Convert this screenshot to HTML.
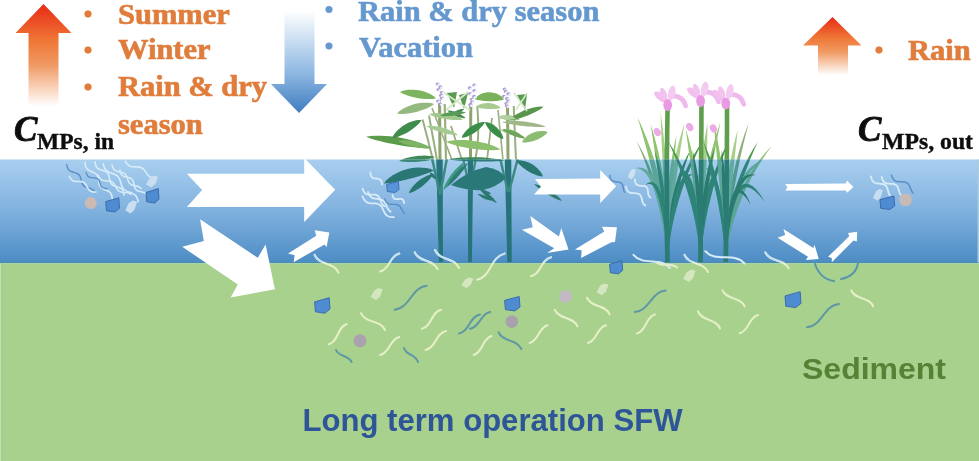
<!DOCTYPE html>
<html><head><meta charset="utf-8">
<style>
html,body{margin:0;padding:0;background:#fff;width:979px;height:461px;overflow:hidden}
svg{display:block}
.serif{font-family:"Liberation Serif",serif;font-weight:bold}
.sans{font-family:"Liberation Sans",sans-serif;font-weight:bold}
</style></head><body>
<svg width="979" height="461" viewBox="0 0 979 461">
<defs>
<linearGradient id="water" x1="0" y1="0" x2="0" y2="1">
<stop offset="0" stop-color="#a9cfef"/>
<stop offset="0.5" stop-color="#80b1de"/>
<stop offset="0.93" stop-color="#5391c8"/>
<stop offset="1" stop-color="#4e8bc4"/>
</linearGradient>
<linearGradient id="orgL" x1="0" y1="0" x2="0" y2="1">
<stop offset="0" stop-color="#e82a17"/>
<stop offset="0.35" stop-color="#ef7535"/>
<stop offset="0.6" stop-color="#f09a63"/>
<stop offset="1" stop-color="#ffffff"/>
</linearGradient>
<linearGradient id="bluA" x1="0" y1="0" x2="0" y2="1">
<stop offset="0" stop-color="#ffffff"/>
<stop offset="0.6" stop-color="#8fb9e2"/>
<stop offset="1" stop-color="#3f7cc0"/>
</linearGradient>
<filter id="soft" x="-2%" y="-2%" width="104%" height="104%" filterUnits="objectBoundingBox"><feGaussianBlur stdDeviation="0.5"/></filter>
</defs>
<g filter="url(#soft)">
<rect x="-10" y="-10" width="999" height="481" fill="#ffffff"/>
<rect x="-10" y="159.5" width="999" height="103.5" fill="url(#water)"/>
<rect x="-10" y="263" width="999" height="208" fill="#a9d18e"/>
<rect x="-10" y="262" width="999" height="1" fill="#4e8ca6"/>
<rect x="-10" y="263" width="999" height="1" fill="#a6d4ae"/>
<rect id="ledge" x="-10" y="263" width="11.2" height="200" fill="#bfe0a8"/>
<rect x="1.5" y="263" width="1.5" height="200" fill="#a6ca8c"/>
<rect x="977.5" y="159.5" width="2" height="103" fill="#a8cce0"/>

<!-- top arrows -->
<path d="M43.5,4 L71.5,33 L58.5,33 L58.5,106 L28.5,106 L28.5,33 L15.5,33 Z" fill="url(#orgL)"/>
<path d="M832.5,17 L861.5,45.5 L848,45.5 L848,75 L818,75 L818,45.5 L803,45.5 Z" fill="url(#orgL)"/>
<path d="M284.5,11 L314.5,11 L314.5,84 L327,84 L299,113 L271,84 L284.5,84 Z" fill="url(#bluA)"/>

<!-- PLANTS -->
<defs><filter id="fb" x="-20%" y="-20%" width="140%" height="140%"><feGaussianBlur stdDeviation="0.7"/></filter><clipPath id="cA"><rect x="0" y="0" width="979" height="159.5"/></clipPath><clipPath id="cW"><rect x="0" y="150" width="979" height="112.5"/></clipPath><clipPath id="cB"><rect x="0" y="159.5" width="979" height="103.0"/></clipPath></defs>
<g clip-path="url(#cA)"><path d="M421.6,119.8 L422.4,122.7 L423.2,125.6 L423.9,128.5 L424.7,131.4 L425.4,134.3 L426.2,137.2 L426.9,140.1 L427.7,143.0 L428.4,145.9 L429.1,148.8 L429.9,151.7 L430.6,154.5 L431.3,157.4 L432.0,160.2 L434.0,159.8 L433.3,156.9 L432.5,154.0 L431.8,151.2 L431.1,148.3 L430.3,145.4 L429.6,142.5 L428.9,139.6 L428.1,136.7 L427.4,133.8 L426.6,130.9 L425.9,128.0 L425.1,125.1 L424.3,122.2 L423.6,119.2Z" fill="#9aae80"/><path d="M428.0,115.8 L428.6,118.9 L429.2,122.1 L429.7,125.3 L430.3,128.5 L430.9,131.6 L431.4,134.8 L432.0,138.0 L432.6,141.1 L433.2,144.3 L433.7,147.5 L434.3,150.7 L434.9,153.8 L435.4,157.0 L436.0,160.2 L438.0,159.8 L437.4,156.7 L436.8,153.5 L436.3,150.3 L435.7,147.1 L435.1,144.0 L434.6,140.8 L434.0,137.6 L433.4,134.5 L432.8,131.3 L432.3,128.1 L431.7,124.9 L431.1,121.8 L430.6,118.6 L430.0,115.4Z" fill="#9aae80"/><path d="M438.0,100.0 L438.0,104.3 L438.1,108.6 L438.1,112.9 L438.1,117.2 L438.2,121.4 L438.2,125.7 L438.3,130.0 L438.3,134.3 L438.3,138.6 L438.4,142.9 L438.4,147.2 L438.4,151.4 L438.5,155.7 L438.5,160.0 L441.5,160.0 L441.5,155.7 L441.4,151.4 L441.4,147.1 L441.4,142.8 L441.3,138.6 L441.3,134.3 L441.2,130.0 L441.2,125.7 L441.2,121.4 L441.1,117.1 L441.1,112.8 L441.1,108.6 L441.0,104.3 L441.0,100.0Z" fill="#8ea46e"/><path d="M443.6,104.0 L443.7,108.0 L443.8,112.0 L443.9,116.0 L444.0,120.0 L444.1,124.0 L444.2,128.0 L444.3,132.0 L444.3,136.0 L444.4,140.0 L444.5,144.0 L444.6,148.0 L444.7,152.0 L444.8,156.0 L444.9,160.0 L447.1,160.0 L447.0,156.0 L446.9,152.0 L446.8,148.0 L446.7,144.0 L446.6,140.0 L446.5,136.0 L446.4,132.0 L446.4,128.0 L446.3,124.0 L446.2,120.0 L446.1,116.0 L446.0,112.0 L445.9,108.0 L445.8,104.0Z" fill="#9aae80"/><path d="M469.3,103.0 L469.3,107.1 L469.3,111.1 L469.2,115.2 L469.2,119.3 L469.2,123.3 L469.2,127.4 L469.2,131.5 L469.1,135.6 L469.1,139.6 L469.1,143.7 L469.1,147.8 L469.0,151.8 L469.0,155.9 L469.0,160.0 L472.0,160.0 L472.0,155.9 L472.0,151.9 L472.1,147.8 L472.1,143.7 L472.1,139.7 L472.1,135.6 L472.1,131.5 L472.2,127.4 L472.2,123.4 L472.2,119.3 L472.2,115.2 L472.3,111.2 L472.3,107.1 L472.3,103.0Z" fill="#8ea46e"/><path d="M476.3,106.6 L476.6,111.2 L476.9,115.6 L477.1,119.9 L477.2,124.1 L477.2,128.2 L477.2,132.2 L477.1,136.1 L476.9,139.8 L476.6,143.4 L476.2,146.9 L475.8,150.3 L475.3,153.6 L474.7,156.7 L474.0,159.8 L476.0,160.2 L476.7,157.1 L477.3,153.9 L477.8,150.6 L478.2,147.2 L478.6,143.6 L478.9,140.0 L479.1,136.2 L479.2,132.3 L479.2,128.2 L479.2,124.1 L479.1,119.9 L478.9,115.5 L478.6,111.0 L478.3,106.4Z" fill="#9aae80"/><path d="M506.0,104.0 L506.0,108.0 L506.1,112.0 L506.1,116.0 L506.1,120.0 L506.2,124.0 L506.2,128.0 L506.3,132.0 L506.3,136.0 L506.3,140.0 L506.4,144.0 L506.4,148.0 L506.4,152.0 L506.5,156.0 L506.5,160.0 L509.5,160.0 L509.5,156.0 L509.4,152.0 L509.4,148.0 L509.4,144.0 L509.3,140.0 L509.3,136.0 L509.2,132.0 L509.2,128.0 L509.2,124.0 L509.1,120.0 L509.1,116.0 L509.1,112.0 L509.0,108.0 L509.0,104.0Z" fill="#8ea46e"/><path d="M512.7,106.0 L512.9,109.9 L513.0,113.8 L513.2,117.6 L513.4,121.5 L513.5,125.3 L513.7,129.2 L513.9,133.0 L514.0,136.9 L514.2,140.8 L514.3,144.6 L514.5,148.5 L514.7,152.3 L514.8,156.2 L515.0,160.0 L517.0,160.0 L516.8,156.1 L516.7,152.2 L516.5,148.4 L516.3,144.5 L516.2,140.7 L516.0,136.8 L515.8,133.0 L515.7,129.1 L515.5,125.2 L515.4,121.4 L515.2,117.5 L515.0,113.7 L514.9,109.8 L514.7,106.0Z" fill="#9aae80"/><path d="M450.1,126.3 L450.9,128.7 L451.7,131.1 L452.5,133.6 L453.3,136.0 L454.1,138.4 L454.9,140.8 L455.6,143.3 L456.4,145.7 L457.2,148.1 L458.0,150.6 L458.8,153.0 L459.6,155.4 L460.4,157.8 L461.1,160.3 L462.9,159.7 L462.1,157.3 L461.3,154.9 L460.5,152.4 L459.7,150.0 L458.9,147.6 L458.1,145.2 L457.4,142.7 L456.6,140.3 L455.8,137.9 L455.0,135.4 L454.2,133.0 L453.4,130.6 L452.6,128.2 L451.9,125.7Z" fill="#9aae80"/><path d="M491.1,117.9 L490.7,120.9 L490.4,123.9 L490.0,126.9 L489.7,129.9 L489.3,132.9 L489.0,135.9 L488.6,138.9 L488.2,141.9 L487.9,144.9 L487.5,147.9 L487.2,150.9 L486.8,153.9 L486.5,156.9 L486.1,159.9 L487.9,160.1 L488.3,157.1 L488.6,154.1 L489.0,151.1 L489.3,148.1 L489.7,145.1 L490.0,142.1 L490.4,139.1 L490.8,136.1 L491.1,133.1 L491.5,130.1 L491.8,127.1 L492.2,124.1 L492.5,121.1 L492.9,118.1Z" fill="#9aae80"/><path d="M431.3,108.3 L432.7,112.0 L434.1,115.7 L435.5,119.4 L437.0,123.1 L438.4,126.9 L439.8,130.6 L441.3,134.3 L442.7,138.0 L444.1,141.7 L445.5,145.4 L447.0,149.1 L448.4,152.9 L449.8,156.6 L451.3,160.3 L452.7,159.7 L451.3,156.0 L449.9,152.3 L448.5,148.6 L447.0,144.9 L445.6,141.1 L444.2,137.4 L442.7,133.7 L441.3,130.0 L439.9,126.3 L438.5,122.6 L437.0,118.9 L435.6,115.1 L434.2,111.4 L432.7,107.7Z" fill="#9aae80"/><path d="M497.2,110.1 L497.6,113.7 L497.9,117.2 L498.3,120.8 L498.6,124.4 L499.0,127.9 L499.3,131.5 L499.7,135.1 L500.1,138.7 L500.4,142.2 L500.8,145.8 L501.1,149.4 L501.5,152.9 L501.8,156.5 L502.2,160.1 L503.8,159.9 L503.4,156.3 L503.1,152.8 L502.7,149.2 L502.4,145.6 L502.0,142.1 L501.7,138.5 L501.3,134.9 L500.9,131.3 L500.6,127.8 L500.2,124.2 L499.9,120.6 L499.5,117.1 L499.2,113.5 L498.8,109.9Z" fill="#9aae80"/><path d="M400.0,92.0 L402.5,93.6 L405.0,94.6 L407.5,95.5 L410.0,96.3 L412.5,97.0 L415.0,97.6 L417.5,98.1 L420.0,98.5 L422.5,98.8 L425.1,99.0 L427.7,99.1 L430.4,99.1 L433.1,98.9 L436.0,98.3 L436.0,98.3 L433.8,96.2 L431.5,94.8 L429.1,93.5 L426.6,92.4 L424.1,91.5 L421.5,90.8 L418.9,90.2 L416.2,89.9 L413.5,89.7 L410.9,89.7 L408.1,89.8 L405.4,90.2 L402.7,90.8 L400.0,92.0Z" fill="#7db45e"/><path d="M397.0,113.5 L400.0,114.0 L402.9,113.9 L405.6,113.7 L408.4,113.4 L411.0,113.0 L413.7,112.5 L416.3,111.9 L418.9,111.2 L421.5,110.3 L424.0,109.4 L426.5,108.4 L429.1,107.2 L431.6,105.9 L434.0,104.0 L434.0,104.0 L431.1,103.1 L428.2,102.8 L425.4,102.7 L422.5,102.8 L419.8,103.1 L417.0,103.5 L414.3,104.1 L411.7,104.9 L409.0,105.9 L406.5,107.0 L404.0,108.2 L401.5,109.7 L399.2,111.3 L397.0,113.5Z" fill="#93b980"/><path d="M366.0,136.8 L370.6,138.6 L375.1,139.9 L379.7,141.1 L384.3,142.2 L388.9,143.2 L393.5,144.1 L398.1,145.0 L402.7,145.7 L407.3,146.4 L412.0,147.0 L416.6,147.6 L421.3,148.0 L426.1,148.3 L431.0,148.2 L431.0,148.2 L426.7,145.8 L422.3,143.9 L417.8,142.3 L413.3,140.8 L408.7,139.6 L404.0,138.5 L399.4,137.6 L394.7,136.8 L389.9,136.3 L385.2,135.9 L380.4,135.7 L375.6,135.8 L370.8,136.0 L366.0,136.8Z" fill="#5a9c4a"/><path d="M398.0,141.0 L400.2,142.3 L402.5,143.3 L404.8,144.2 L407.1,144.9 L409.4,145.6 L411.7,146.3 L414.0,146.8 L416.4,147.3 L418.7,147.7 L421.1,148.0 L423.5,148.2 L425.9,148.4 L428.4,148.5 L431.0,148.2 L431.0,148.2 L428.9,146.6 L426.7,145.4 L424.5,144.4 L422.2,143.5 L419.9,142.7 L417.6,142.0 L415.2,141.4 L412.8,141.0 L410.4,140.6 L408.0,140.4 L405.5,140.3 L403.0,140.3 L400.5,140.4 L398.0,141.0Z" fill="#7fb465"/><path d="M392.2,138.0 L395.0,137.7 L397.5,136.9 L399.8,136.1 L402.1,135.1 L404.3,134.1 L406.5,133.0 L408.6,131.8 L410.6,130.5 L412.5,129.1 L414.5,127.6 L416.3,125.9 L418.2,124.2 L419.9,122.4 L421.5,120.0 L421.5,120.0 L418.7,119.9 L416.1,120.3 L413.6,120.9 L411.2,121.7 L408.8,122.6 L406.5,123.7 L404.4,125.0 L402.3,126.3 L400.3,127.9 L398.4,129.5 L396.6,131.3 L394.9,133.3 L393.4,135.4 L392.2,138.0Z" fill="#3f8c4d"/><path d="M429.0,114.3 L431.4,115.5 L433.7,116.3 L436.1,117.0 L438.5,117.7 L440.9,118.2 L443.3,118.7 L445.7,119.1 L448.1,119.5 L450.5,119.7 L452.9,119.9 L455.4,120.0 L457.9,120.0 L460.4,119.9 L463.0,119.5 L463.0,119.5 L460.8,118.1 L458.5,117.0 L456.1,116.1 L453.8,115.3 L451.4,114.7 L448.9,114.1 L446.5,113.7 L444.0,113.4 L441.6,113.2 L439.1,113.1 L436.6,113.1 L434.1,113.3 L431.5,113.6 L429.0,114.3Z" fill="#a2c88e"/><path d="M426.5,126.0 L428.6,127.4 L430.7,128.4 L432.9,129.4 L435.1,130.3 L437.3,131.1 L439.5,131.8 L441.7,132.5 L443.9,133.1 L446.2,133.7 L448.5,134.2 L450.8,134.6 L453.1,135.0 L455.5,135.2 L458.0,135.2 L458.0,135.2 L456.1,133.6 L454.0,132.3 L451.9,131.2 L449.8,130.2 L447.6,129.3 L445.3,128.4 L443.1,127.7 L440.8,127.1 L438.5,126.6 L436.2,126.2 L433.8,125.9 L431.4,125.7 L429.0,125.7 L426.5,126.0Z" fill="#a6cb92"/><path d="M447,93 L457,92 L454,108 Z" fill="#5a9a52"/><path d="M459,95 L468,93 L464,109 Z" fill="#5a9a52"/><path d="M444,93 L470,110 M468,92 L446,110" stroke="#d2e8c4" stroke-width="1.8"/><path d="M474.7,99.0 L477.2,99.9 L479.5,100.3 L481.6,100.6 L483.6,100.9 L485.5,101.1 L487.4,101.2 L489.3,101.2 L491.2,101.2 L493.1,101.2 L495.1,101.1 L497.1,100.9 L499.2,100.6 L501.5,100.3 L504.0,99.5 L504.0,99.5 L502.4,97.3 L500.5,95.8 L498.4,94.5 L496.3,93.6 L494.1,92.9 L491.8,92.4 L489.5,92.3 L487.2,92.3 L484.9,92.7 L482.6,93.3 L480.4,94.2 L478.4,95.4 L476.4,96.9 L474.7,99.0Z" fill="#79b25a"/><path d="M475.8,107.0 L477.8,107.7 L479.6,108.1 L481.4,108.4 L483.1,108.6 L484.8,108.8 L486.5,108.9 L488.2,109.0 L489.9,109.0 L491.6,109.0 L493.3,109.0 L495.0,108.9 L496.8,108.8 L498.7,108.5 L500.7,108.0 L500.7,108.0 L499.2,106.5 L497.5,105.5 L495.8,104.7 L494.0,104.0 L492.2,103.5 L490.3,103.2 L488.4,103.0 L486.5,103.0 L484.7,103.2 L482.8,103.5 L481.0,104.1 L479.2,104.8 L477.4,105.6 L475.8,107.0Z" fill="#a8cc90"/><path d="M447.3,110.4 L448.4,111.5 L449.5,112.4 L450.7,113.2 L452.0,114.0 L453.2,114.7 L454.5,115.3 L455.8,115.9 L457.1,116.4 L458.4,116.9 L459.8,117.3 L461.2,117.7 L462.6,118.0 L464.1,118.2 L465.6,118.2 L465.6,118.2 L464.5,117.1 L463.4,116.2 L462.2,115.4 L460.9,114.6 L459.7,113.9 L458.4,113.3 L457.1,112.7 L455.8,112.2 L454.5,111.7 L453.1,111.3 L451.7,110.9 L450.3,110.6 L448.8,110.4 L447.3,110.4Z" fill="#4a8a50"/><path d="M450.0,115.6 L451.3,115.7 L452.4,115.5 L453.5,115.3 L454.6,115.0 L455.7,114.7 L456.7,114.3 L457.7,113.9 L458.7,113.4 L459.7,112.8 L460.6,112.2 L461.5,111.6 L462.4,110.8 L463.3,110.0 L464.0,109.0 L464.0,109.0 L462.7,108.9 L461.6,109.1 L460.5,109.3 L459.4,109.6 L458.3,109.9 L457.3,110.3 L456.3,110.7 L455.3,111.2 L454.3,111.8 L453.4,112.4 L452.5,113.0 L451.6,113.8 L450.7,114.6 L450.0,115.6Z" fill="#4a8a50"/><path d="M440.0,115.8 L442.0,116.1 L443.9,116.2 L445.8,116.2 L447.6,116.1 L449.5,116.0 L451.3,115.8 L453.2,115.6 L455.0,115.4 L456.9,115.1 L458.7,114.7 L460.5,114.3 L462.3,113.8 L464.2,113.3 L466.0,112.5 L466.0,112.5 L464.1,111.9 L462.2,111.6 L460.3,111.4 L458.4,111.4 L456.5,111.4 L454.6,111.5 L452.7,111.7 L450.8,112.0 L449.0,112.3 L447.1,112.8 L445.3,113.3 L443.5,114.0 L441.7,114.7 L440.0,115.8Z" fill="#5a9a58"/><path d="M446.0,141.7 L449.8,143.5 L453.6,144.7 L457.5,145.7 L461.3,146.7 L465.2,147.5 L469.0,148.2 L472.9,148.8 L476.8,149.3 L480.7,149.7 L484.6,150.0 L488.6,150.2 L492.5,150.2 L496.6,150.1 L500.7,149.5 L500.7,149.5 L497.1,147.4 L493.3,145.8 L489.5,144.5 L485.7,143.3 L481.8,142.4 L477.9,141.5 L474.0,140.9 L470.1,140.4 L466.1,140.1 L462.1,140.0 L458.1,140.0 L454.1,140.2 L450.1,140.7 L446.0,141.7Z" fill="#8cc06c"/><path d="M461.7,137.8 L464.0,137.5 L466.1,136.9 L468.0,136.2 L469.9,135.3 L471.6,134.4 L473.4,133.4 L475.0,132.4 L476.6,131.2 L478.2,130.0 L479.7,128.7 L481.1,127.2 L482.5,125.7 L483.9,124.1 L485.0,122.0 L485.0,122.0 L482.6,122.0 L480.5,122.4 L478.5,123.0 L476.5,123.7 L474.6,124.5 L472.8,125.5 L471.1,126.6 L469.5,127.8 L467.9,129.1 L466.4,130.6 L465.0,132.1 L463.7,133.8 L462.5,135.6 L461.7,137.8Z" fill="#3a8e48"/><path d="M485.0,122.0 L485.6,124.1 L486.5,125.8 L487.5,127.3 L488.6,128.8 L489.7,130.2 L490.9,131.5 L492.1,132.7 L493.4,133.8 L494.8,134.9 L496.3,135.9 L497.8,136.9 L499.4,137.7 L501.2,138.5 L503.3,139.0 L503.3,139.0 L503.0,136.9 L502.3,135.0 L501.4,133.3 L500.4,131.8 L499.3,130.3 L498.2,128.9 L496.9,127.6 L495.5,126.4 L494.0,125.3 L492.4,124.3 L490.8,123.5 L489.0,122.7 L487.2,122.2 L485.0,122.0Z" fill="#3a8e48"/><path d="M498.0,117.0 L499.6,117.9 L501.1,118.5 L502.6,119.0 L504.2,119.4 L505.7,119.8 L507.2,120.0 L508.8,120.2 L510.3,120.4 L511.9,120.5 L513.4,120.5 L515.0,120.4 L516.6,120.3 L518.3,120.0 L520.0,119.5 L520.0,119.5 L518.6,118.3 L517.1,117.5 L515.6,116.9 L514.1,116.3 L512.5,115.8 L510.9,115.5 L509.3,115.3 L507.7,115.1 L506.1,115.1 L504.5,115.2 L502.9,115.4 L501.2,115.7 L499.6,116.2 L498.0,117.0Z" fill="#a0c88c"/><path d="M500.7,130.0 L502.0,131.1 L503.3,131.8 L504.6,132.5 L505.9,133.1 L507.2,133.6 L508.5,134.1 L509.8,134.4 L511.2,134.8 L512.6,135.0 L514.0,135.2 L515.4,135.3 L516.9,135.4 L518.4,135.3 L520.0,135.0 L520.0,135.0 L518.9,133.7 L517.7,132.7 L516.5,131.9 L515.2,131.2 L513.9,130.5 L512.5,130.0 L511.1,129.6 L509.7,129.3 L508.2,129.1 L506.8,129.0 L505.3,129.0 L503.8,129.1 L502.3,129.4 L500.7,130.0Z" fill="#a0c88c"/><path d="M509.0,120.5 L511.9,120.3 L514.5,119.7 L517.1,119.0 L519.7,118.3 L522.2,117.5 L524.7,116.6 L527.1,115.7 L529.6,114.7 L532.0,113.6 L534.3,112.5 L536.7,111.2 L539.1,109.9 L541.4,108.5 L543.6,106.7 L543.6,106.7 L540.7,106.5 L538.0,106.7 L535.3,107.2 L532.6,107.7 L530.0,108.4 L527.4,109.2 L524.9,110.1 L522.4,111.2 L520.0,112.4 L517.6,113.7 L515.3,115.1 L513.1,116.7 L510.9,118.4 L509.0,120.5Z" fill="#5a944e"/><path d="M501.8,122.0 L504.9,123.0 L508.0,123.7 L511.2,124.3 L514.3,124.8 L517.4,125.3 L520.6,125.7 L523.7,126.1 L526.9,126.4 L530.0,126.6 L533.2,126.8 L536.4,127.0 L539.5,127.0 L542.7,127.0 L546.0,126.7 L546.0,126.7 L543.0,125.5 L539.9,124.5 L536.8,123.8 L533.7,123.1 L530.5,122.5 L527.4,122.0 L524.2,121.6 L521.0,121.3 L517.8,121.1 L514.6,121.1 L511.4,121.1 L508.2,121.2 L505.0,121.4 L501.8,122.0Z" fill="#a0b888"/><path d="M502.6,129.5 L504.0,130.8 L505.5,131.8 L507.1,132.7 L508.6,133.5 L510.1,134.3 L511.7,135.0 L513.3,135.7 L514.9,136.3 L516.5,136.8 L518.2,137.4 L519.9,137.8 L521.6,138.2 L523.4,138.5 L525.3,138.6 L525.3,138.6 L524.1,137.1 L522.7,135.9 L521.2,134.9 L519.7,133.9 L518.2,133.0 L516.6,132.2 L515.0,131.5 L513.3,130.9 L511.6,130.4 L509.9,129.9 L508.1,129.6 L506.3,129.4 L504.5,129.3 L502.6,129.5Z" fill="#6fa45a"/><path d="M498.0,117.3 L499.3,118.0 L500.6,118.4 L501.9,118.7 L503.1,119.0 L504.4,119.2 L505.6,119.4 L506.9,119.5 L508.1,119.6 L509.4,119.7 L510.7,119.6 L512.0,119.6 L513.3,119.4 L514.6,119.2 L516.0,118.8 L516.0,118.8 L514.8,117.9 L513.6,117.2 L512.4,116.7 L511.1,116.3 L509.8,116.0 L508.5,115.7 L507.2,115.6 L505.9,115.5 L504.6,115.5 L503.2,115.6 L501.9,115.8 L500.6,116.2 L499.3,116.6 L498.0,117.3Z" fill="#b0d0a0"/><path d="M522.0,142.2 L524.4,142.5 L526.5,142.4 L528.5,142.1 L530.5,141.8 L532.4,141.3 L534.2,140.8 L536.0,140.1 L537.8,139.4 L539.5,138.5 L541.2,137.5 L542.9,136.4 L544.6,135.2 L546.2,133.9 L547.7,132.0 L547.7,132.0 L545.4,131.2 L543.2,131.0 L541.1,131.0 L539.0,131.2 L537.0,131.5 L535.0,132.0 L533.1,132.7 L531.2,133.5 L529.4,134.5 L527.7,135.6 L526.1,136.9 L524.6,138.4 L523.1,140.0 L522.0,142.2Z" fill="#8cbb72"/><path d="M517,95 L527,94 L525,110 Z" fill="#5a9a52"/><path d="M514,93 L527,111 M527,93 L516,110" stroke="#d2e8c4" stroke-width="1.6"/><path d="M399.0,161.0 L401.7,161.4 L404.3,161.6 L406.9,161.6 L409.5,161.5 L412.1,161.4 L414.7,161.2 L417.2,161.0 L419.8,160.7 L422.3,160.3 L424.9,159.8 L427.4,159.3 L429.9,158.7 L432.5,158.0 L435.0,157.0 L435.0,157.0 L432.4,156.3 L429.7,155.9 L427.1,155.7 L424.5,155.6 L421.9,155.7 L419.3,155.8 L416.7,156.0 L414.1,156.4 L411.5,156.8 L409.0,157.4 L406.4,158.0 L403.9,158.8 L401.4,159.7 L399.0,161.0Z" fill="#3f8a5a"/><path d="M448.6,159.3 L452.6,159.9 L456.6,160.2 L460.6,160.5 L464.6,160.7 L468.5,160.9 L472.5,161.1 L476.5,161.2 L480.4,161.3 L484.4,161.3 L488.4,161.3 L492.4,161.3 L496.4,161.2 L500.4,161.0 L504.4,160.6 L504.4,160.6 L500.5,159.6 L496.5,158.9 L492.5,158.4 L488.5,157.9 L484.6,157.6 L480.6,157.3 L476.6,157.2 L472.6,157.2 L468.6,157.2 L464.6,157.4 L460.6,157.6 L456.6,158.0 L452.6,158.5 L448.6,159.3Z" fill="#3f8a5a"/><ellipse cx="437.6" cy="84.0" rx="2.0" ry="1.6" fill="#a99cd4"/><ellipse cx="438.8" cy="84.8" rx="1.5" ry="1.3" fill="#f2f0fa"/><ellipse cx="440.4" cy="86.9" rx="2.0" ry="1.6" fill="#a99cd4"/><ellipse cx="441.6" cy="87.7" rx="1.5" ry="1.3" fill="#f2f0fa"/><ellipse cx="438.5" cy="89.7" rx="2.0" ry="1.6" fill="#a99cd4"/><ellipse cx="439.7" cy="90.5" rx="1.5" ry="1.3" fill="#f2f0fa"/><ellipse cx="441.8" cy="92.6" rx="2.0" ry="1.6" fill="#a99cd4"/><ellipse cx="443.0" cy="93.4" rx="1.5" ry="1.3" fill="#f2f0fa"/><ellipse cx="441.0" cy="95.4" rx="2.0" ry="1.6" fill="#a99cd4"/><ellipse cx="442.2" cy="96.2" rx="1.5" ry="1.3" fill="#f2f0fa"/><ellipse cx="441.8" cy="98.3" rx="2.0" ry="1.6" fill="#a99cd4"/><ellipse cx="443.0" cy="99.1" rx="1.5" ry="1.3" fill="#f2f0fa"/><ellipse cx="438.1" cy="101.1" rx="2.0" ry="1.6" fill="#a99cd4"/><ellipse cx="439.3" cy="101.9" rx="1.5" ry="1.3" fill="#f2f0fa"/><ellipse cx="440.3" cy="104.0" rx="2.0" ry="1.6" fill="#a99cd4"/><ellipse cx="441.5" cy="104.8" rx="1.5" ry="1.3" fill="#f2f0fa"/><ellipse cx="474.3" cy="85.0" rx="2.0" ry="1.6" fill="#a99cd4"/><ellipse cx="475.5" cy="85.8" rx="1.5" ry="1.3" fill="#f2f0fa"/><ellipse cx="469.8" cy="87.9" rx="2.0" ry="1.6" fill="#a99cd4"/><ellipse cx="471.0" cy="88.7" rx="1.5" ry="1.3" fill="#f2f0fa"/><ellipse cx="474.4" cy="90.7" rx="2.0" ry="1.6" fill="#a99cd4"/><ellipse cx="475.6" cy="91.5" rx="1.5" ry="1.3" fill="#f2f0fa"/><ellipse cx="470.1" cy="93.6" rx="2.0" ry="1.6" fill="#a99cd4"/><ellipse cx="471.3" cy="94.4" rx="1.5" ry="1.3" fill="#f2f0fa"/><ellipse cx="474.1" cy="96.4" rx="2.0" ry="1.6" fill="#a99cd4"/><ellipse cx="475.3" cy="97.2" rx="1.5" ry="1.3" fill="#f2f0fa"/><ellipse cx="471.8" cy="99.3" rx="2.0" ry="1.6" fill="#a99cd4"/><ellipse cx="473.0" cy="100.1" rx="1.5" ry="1.3" fill="#f2f0fa"/><ellipse cx="472.0" cy="102.1" rx="2.0" ry="1.6" fill="#a99cd4"/><ellipse cx="473.2" cy="102.9" rx="1.5" ry="1.3" fill="#f2f0fa"/><ellipse cx="470.2" cy="105.0" rx="2.0" ry="1.6" fill="#a99cd4"/><ellipse cx="471.4" cy="105.8" rx="1.5" ry="1.3" fill="#f2f0fa"/><ellipse cx="504.6" cy="89.0" rx="2.0" ry="1.6" fill="#a99cd4"/><ellipse cx="505.8" cy="89.8" rx="1.5" ry="1.3" fill="#f2f0fa"/><ellipse cx="505.7" cy="91.4" rx="2.0" ry="1.6" fill="#a99cd4"/><ellipse cx="506.9" cy="92.2" rx="1.5" ry="1.3" fill="#f2f0fa"/><ellipse cx="508.4" cy="93.9" rx="2.0" ry="1.6" fill="#a99cd4"/><ellipse cx="509.6" cy="94.7" rx="1.5" ry="1.3" fill="#f2f0fa"/><ellipse cx="503.9" cy="96.3" rx="2.0" ry="1.6" fill="#a99cd4"/><ellipse cx="505.1" cy="97.1" rx="1.5" ry="1.3" fill="#f2f0fa"/><ellipse cx="507.1" cy="98.7" rx="2.0" ry="1.6" fill="#a99cd4"/><ellipse cx="508.3" cy="99.5" rx="1.5" ry="1.3" fill="#f2f0fa"/><ellipse cx="508.1" cy="101.1" rx="2.0" ry="1.6" fill="#a99cd4"/><ellipse cx="509.3" cy="101.9" rx="1.5" ry="1.3" fill="#f2f0fa"/><ellipse cx="506.4" cy="103.6" rx="2.0" ry="1.6" fill="#a99cd4"/><ellipse cx="507.6" cy="104.4" rx="1.5" ry="1.3" fill="#f2f0fa"/><ellipse cx="506.8" cy="106.0" rx="2.0" ry="1.6" fill="#a99cd4"/><ellipse cx="508.0" cy="106.8" rx="1.5" ry="1.3" fill="#f2f0fa"/><path d="M668.1,262.0 L667.7,251.7 L667.3,241.3 L666.8,231.0 L666.0,220.5 L664.8,210.1 L663.4,199.7 L661.5,189.2 L659.3,178.8 L656.6,168.4 L653.6,158.0 L650.1,147.7 L646.3,137.4 L642.1,127.2 L637.5,117.0 L637.5,117.0 L640.6,127.7 L643.6,138.3 L646.5,148.8 L649.2,159.3 L651.7,169.6 L654.2,180.0 L656.5,190.3 L658.7,200.5 L660.7,210.8 L662.5,221.0 L664.1,231.2 L665.5,241.5 L666.5,251.7 L666.9,262.0Z" fill="#8ec46e"/><path d="M668.1,262.0 L667.5,252.5 L666.7,243.1 L665.9,233.8 L664.8,224.6 L663.5,215.5 L661.8,206.6 L659.8,197.8 L657.5,189.2 L654.8,180.7 L651.8,172.4 L648.5,164.3 L644.8,156.3 L640.8,148.6 L636.5,141.0 L636.5,141.0 L639.9,149.0 L643.2,157.1 L646.2,165.2 L649.1,173.4 L651.8,181.7 L654.3,190.1 L656.7,198.7 L658.9,207.3 L660.8,216.1 L662.6,225.0 L664.2,234.0 L665.6,243.2 L666.3,252.5 L666.9,262.0Z" fill="#8fae78"/><path d="M668.1,262.0 L667.9,251.7 L667.7,241.5 L667.6,231.3 L667.3,221.2 L666.8,211.2 L666.1,201.2 L665.1,191.2 L663.8,181.3 L662.3,171.6 L660.5,161.8 L658.4,152.2 L656.0,142.7 L653.4,133.3 L650.5,124.0 L650.5,124.0 L652.0,133.6 L653.5,143.2 L655.0,152.9 L656.4,162.6 L657.7,172.3 L659.1,182.0 L660.4,191.8 L661.7,201.6 L663.0,211.5 L664.1,221.5 L665.2,231.5 L666.1,241.6 L666.7,251.8 L666.9,262.0Z" fill="#8ec46e"/><path d="M668.1,262.0 L668.3,251.8 L668.9,241.6 L669.8,231.4 L670.9,221.4 L672.0,211.4 L673.3,201.4 L674.6,191.5 L675.9,181.7 L677.3,171.8 L678.6,162.0 L680.0,152.3 L681.5,142.5 L683.0,132.8 L684.5,123.0 L684.5,123.0 L681.6,132.4 L679.0,142.0 L676.6,151.6 L674.5,161.3 L672.7,171.1 L671.2,181.0 L669.9,191.0 L668.9,201.0 L668.2,211.0 L667.7,221.1 L667.4,231.3 L667.3,241.5 L667.1,251.7 L666.9,262.0Z" fill="#a6cf8a"/><path d="M668.1,262.0 L668.6,252.5 L669.4,243.2 L670.8,234.0 L672.5,224.9 L674.5,216.0 L676.8,207.2 L679.3,198.5 L682.0,190.0 L685.0,181.5 L688.2,173.1 L691.7,164.7 L695.4,156.4 L699.3,148.2 L703.5,140.0 L703.5,140.0 L698.3,147.6 L693.5,155.5 L689.1,163.5 L685.2,171.8 L681.6,180.2 L678.4,188.7 L675.7,197.5 L673.4,206.3 L671.5,215.4 L670.0,224.5 L668.9,233.7 L668.1,243.0 L667.3,252.5 L666.9,262.0Z" fill="#4c9a4c"/><path d="M668.1,262.0 L667.9,252.5 L667.6,243.3 L667.5,234.2 L667.3,225.4 L666.9,216.8 L666.4,208.4 L665.6,200.3 L664.6,192.4 L663.5,184.7 L662.1,177.2 L660.5,170.0 L658.7,163.1 L656.7,156.4 L654.5,150.0 L654.5,150.0 L655.6,156.7 L656.7,163.5 L657.8,170.6 L658.8,177.8 L659.9,185.2 L660.9,192.9 L661.9,200.7 L662.9,208.8 L663.8,217.1 L664.8,225.6 L665.6,234.3 L666.3,243.3 L666.7,252.6 L666.9,262.0Z" fill="#4c9a4c"/><path d="M668.1,262.0 L668.4,252.6 L668.9,243.3 L669.9,234.4 L671.1,225.7 L672.4,217.2 L673.9,208.9 L675.6,200.9 L677.3,193.1 L679.2,185.4 L681.2,178.0 L683.4,170.8 L685.6,163.7 L688.0,156.8 L690.5,150.0 L690.5,150.0 L686.9,156.3 L683.7,162.9 L680.7,169.8 L678.1,177.0 L675.7,184.5 L673.7,192.2 L671.9,200.1 L670.5,208.3 L669.4,216.7 L668.5,225.4 L667.9,234.2 L667.6,243.3 L667.1,252.5 L666.9,262.0Z" fill="#3f8a48"/><path d="M668.1,262.0 L668.1,251.7 L668.0,241.3 L668.2,230.8 L668.2,220.3 L668.1,209.8 L668.0,199.1 L667.6,188.4 L667.1,177.7 L666.4,166.8 L665.6,156.0 L664.6,145.1 L663.4,134.1 L662.0,123.1 L660.5,112.0 L660.5,112.0 L660.9,123.2 L661.3,134.2 L661.8,145.3 L662.3,156.2 L662.8,167.1 L663.3,177.9 L663.9,188.6 L664.5,199.3 L665.1,209.9 L665.7,220.4 L666.2,230.9 L666.7,241.3 L666.9,251.7 L666.9,262.0Z" fill="#a6cf8a"/><path d="M668.1,262.0 L667.1,248.6 L666.1,236.2 L665.1,224.9 L663.9,214.5 L662.4,205.1 L660.6,196.7 L658.5,189.3 L656.1,182.9 L653.3,177.6 L650.2,173.3 L646.7,170.1 L643.0,168.1 L639.2,167.4 L635.5,168.0 L635.5,168.0 L639.0,168.7 L642.0,170.2 L644.7,172.5 L647.3,175.6 L649.7,179.6 L652.2,184.7 L654.5,190.7 L656.8,197.7 L659.0,205.8 L661.0,215.0 L662.9,225.2 L664.7,236.4 L665.9,248.7 L666.9,262.0Z" fill="#a6cf8a"/><path d="M668.1,262.0 L667.5,249.4 L666.7,237.8 L666.1,227.4 L665.3,218.0 L664.4,209.7 L663.2,202.4 L661.8,196.2 L660.1,191.1 L658.2,187.0 L655.9,184.0 L653.2,182.3 L650.4,181.9 L647.8,182.9 L645.5,185.0 L645.5,185.0 L648.2,183.9 L650.3,183.9 L651.9,184.7 L653.4,186.3 L655.0,188.8 L656.6,192.5 L658.2,197.3 L659.8,203.2 L661.3,210.2 L662.8,218.3 L664.2,227.6 L665.4,237.9 L666.3,249.4 L666.9,262.0Z" fill="#4c9a4c"/><path d="M668.1,262.0 L669.0,249.4 L670.1,237.8 L671.7,227.1 L673.3,217.5 L675.1,208.9 L676.9,201.4 L678.8,194.8 L680.7,189.2 L682.6,184.6 L684.6,181.0 L686.5,178.3 L688.5,176.5 L690.8,175.4 L693.5,175.0 L693.5,175.0 L690.7,174.2 L687.6,174.6 L684.6,176.3 L681.9,179.1 L679.4,183.0 L677.2,187.9 L675.2,193.7 L673.5,200.6 L672.1,208.4 L670.8,217.2 L669.8,226.9 L668.9,237.6 L667.8,249.3 L666.9,262.0Z" fill="#4c9a4c"/><path d="M668.1,262.0 L668.1,251.8 L668.3,241.8 L668.9,232.0 L669.5,222.3 L670.2,212.8 L670.9,203.5 L671.6,194.4 L672.3,185.4 L673.0,176.6 L673.7,168.0 L674.4,159.5 L675.1,151.2 L675.8,143.0 L676.5,135.0 L676.5,135.0 L674.7,142.9 L673.1,150.9 L671.7,159.2 L670.4,167.6 L669.4,176.3 L668.5,185.1 L667.9,194.1 L667.4,203.3 L667.1,212.7 L667.0,222.2 L666.9,231.9 L667.0,241.8 L666.9,251.8 L666.9,262.0Z" fill="#8ec46e"/><path d="M701.1,262.0 L700.7,252.5 L700.0,243.0 L699.3,233.7 L698.3,224.5 L696.9,215.4 L695.2,206.4 L693.1,197.5 L690.6,188.8 L687.7,180.2 L684.4,171.8 L680.7,163.6 L676.7,155.5 L672.3,147.7 L667.5,140.0 L667.5,140.0 L671.3,148.2 L674.8,156.4 L678.2,164.7 L681.3,173.0 L684.2,181.4 L686.9,189.9 L689.4,198.5 L691.8,207.2 L693.9,216.0 L695.7,224.9 L697.3,234.0 L698.7,243.2 L699.5,252.5 L699.9,262.0Z" fill="#4c9a4c"/><path d="M701.1,262.0 L700.9,251.7 L700.7,241.6 L700.6,231.5 L700.3,221.6 L699.9,211.7 L699.2,201.9 L698.3,192.3 L697.2,182.7 L695.9,173.3 L694.3,164.0 L692.5,154.8 L690.4,145.7 L688.1,136.8 L685.5,128.0 L685.5,128.0 L686.8,137.0 L688.1,146.1 L689.4,155.3 L690.6,164.5 L691.8,173.9 L693.0,183.2 L694.2,192.7 L695.3,202.3 L696.4,212.0 L697.4,221.8 L698.4,231.7 L699.2,241.7 L699.7,251.8 L699.9,262.0Z" fill="#8ec46e"/><path d="M701.1,262.0 L701.1,251.7 L701.6,241.5 L702.3,231.4 L703.0,221.3 L703.7,211.3 L704.4,201.3 L705.0,191.4 L705.6,181.5 L706.1,171.7 L706.6,161.9 L706.9,152.1 L707.2,142.4 L707.4,132.7 L707.5,123.0 L707.5,123.0 L705.7,132.5 L704.1,142.1 L702.7,151.8 L701.6,161.5 L700.6,171.3 L699.9,181.2 L699.5,191.1 L699.2,201.1 L699.1,211.1 L699.2,221.2 L699.4,231.3 L699.7,241.5 L699.9,251.7 L699.9,262.0Z" fill="#a6cf8a"/><path d="M701.1,262.0 L701.3,251.8 L701.9,241.5 L702.8,231.4 L704.0,221.3 L705.2,211.3 L706.6,201.3 L708.1,191.3 L709.6,181.4 L711.3,171.4 L713.0,161.6 L714.7,151.7 L716.6,141.8 L718.5,131.9 L720.5,122.0 L720.5,122.0 L717.3,131.6 L714.3,141.2 L711.6,151.0 L709.3,160.8 L707.2,170.7 L705.4,180.7 L703.9,190.7 L702.7,200.8 L701.8,210.9 L701.1,221.1 L700.7,231.3 L700.4,241.5 L700.1,251.7 L699.9,262.0Z" fill="#8ec46e"/><path d="M701.1,262.0 L701.5,252.5 L702.2,243.2 L703.5,233.9 L704.9,224.9 L706.6,215.9 L708.5,207.1 L710.6,198.4 L712.8,189.8 L715.2,181.4 L717.7,172.9 L720.4,164.6 L723.2,156.4 L726.3,148.2 L729.5,140.0 L729.5,140.0 L725.2,147.7 L721.3,155.6 L717.8,163.6 L714.5,171.9 L711.6,180.3 L709.1,188.9 L706.9,197.6 L705.1,206.4 L703.6,215.4 L702.4,224.5 L701.5,233.7 L700.9,243.0 L700.3,252.5 L699.9,262.0Z" fill="#4c9a4c"/><path d="M701.1,262.0 L700.3,249.3 L699.5,237.5 L698.9,226.7 L698.1,216.8 L697.2,207.8 L696.1,199.7 L694.8,192.6 L693.4,186.4 L691.7,181.1 L689.8,176.8 L687.6,173.5 L685.3,171.1 L682.8,169.9 L680.5,170.0 L680.5,170.0 L682.4,171.0 L683.9,172.6 L685.3,175.0 L686.7,178.2 L688.2,182.3 L689.7,187.4 L691.2,193.4 L692.7,200.3 L694.1,208.2 L695.6,217.1 L696.9,226.9 L698.2,237.6 L699.1,249.4 L699.9,262.0Z" fill="#4c9a4c"/><path d="M701.1,262.0 L701.9,249.4 L702.8,237.6 L704.2,226.8 L705.6,216.9 L707.1,208.0 L708.7,200.0 L710.3,192.9 L712.0,186.8 L713.6,181.5 L715.3,177.2 L716.9,173.8 L718.6,171.1 L720.4,169.3 L722.5,168.0 L722.5,168.0 L719.9,168.2 L717.2,169.7 L714.6,172.2 L712.3,175.8 L710.2,180.3 L708.3,185.7 L706.7,192.1 L705.3,199.3 L704.1,207.5 L703.1,216.6 L702.2,226.6 L701.5,237.5 L700.7,249.3 L699.9,262.0Z" fill="#4c9a4c"/><path d="M701.1,262.0 L701.1,252.5 L701.0,243.3 L701.1,234.3 L701.1,225.5 L701.0,216.9 L700.8,208.5 L700.4,200.4 L699.8,192.5 L699.0,184.8 L698.1,177.3 L696.9,170.1 L695.6,163.2 L694.2,156.5 L692.5,150.0 L692.5,150.0 L693.0,156.6 L693.6,163.5 L694.2,170.5 L694.8,177.7 L695.4,185.1 L696.0,192.8 L696.6,200.6 L697.3,208.7 L697.9,217.0 L698.6,225.6 L699.2,234.3 L699.7,243.3 L699.9,252.5 L699.9,262.0Z" fill="#3f8a48"/><path d="M701.1,262.0 L701.3,252.5 L701.7,243.3 L702.4,234.3 L703.3,225.4 L704.3,216.8 L705.3,208.4 L706.4,200.2 L707.4,192.2 L708.6,184.4 L709.7,176.8 L710.8,169.3 L712.0,162.1 L713.3,155.0 L714.5,148.0 L714.5,148.0 L712.1,154.7 L710.0,161.6 L708.1,168.8 L706.4,176.2 L704.9,183.8 L703.7,191.7 L702.6,199.8 L701.8,208.1 L701.2,216.6 L700.8,225.3 L700.5,234.1 L700.4,243.2 L700.1,252.5 L699.9,262.0Z" fill="#3f8a48"/><path d="M726.3,262.0 L725.9,252.5 L725.4,243.1 L724.9,233.7 L724.3,224.5 L723.4,215.5 L722.2,206.5 L720.8,197.7 L719.1,188.9 L717.1,180.4 L714.8,172.0 L712.2,163.7 L709.3,155.6 L706.1,147.7 L702.7,140.0 L702.7,140.0 L705.1,148.1 L707.3,156.3 L709.5,164.5 L711.5,172.8 L713.5,181.2 L715.4,189.7 L717.1,198.3 L718.8,207.1 L720.3,215.9 L721.7,224.8 L723.0,233.9 L724.1,243.1 L724.7,252.5 L725.1,262.0Z" fill="#4c9a4c"/><path d="M726.3,262.0 L726.1,251.7 L725.9,241.5 L725.9,231.3 L725.7,221.1 L725.4,211.0 L725.0,200.9 L724.3,190.8 L723.4,180.8 L722.3,170.9 L721.0,161.0 L719.5,151.1 L717.8,141.4 L715.9,131.6 L713.7,122.0 L713.7,122.0 L714.6,131.8 L715.5,141.7 L716.4,151.5 L717.3,161.4 L718.2,171.3 L719.2,181.2 L720.1,191.2 L721.1,201.2 L722.0,211.2 L722.9,221.3 L723.7,231.4 L724.5,241.5 L724.9,251.7 L725.1,262.0Z" fill="#8ec46e"/><path d="M726.3,262.0 L726.6,251.8 L727.0,241.6 L728.0,231.4 L729.2,221.4 L730.5,211.4 L732.1,201.4 L733.7,191.5 L735.5,181.7 L737.4,171.9 L739.4,162.1 L741.5,152.3 L743.8,142.5 L746.2,132.8 L748.7,123.0 L748.7,123.0 L745.1,132.4 L741.9,142.0 L739.0,151.6 L736.3,161.3 L734.0,171.1 L731.9,181.0 L730.2,191.0 L728.8,201.0 L727.6,211.0 L726.8,221.1 L726.2,231.3 L725.8,241.5 L725.3,251.7 L725.1,262.0Z" fill="#8fae78"/><path d="M726.3,262.0 L726.7,252.5 L727.6,243.2 L728.9,234.1 L730.5,225.1 L732.4,216.3 L734.5,207.6 L736.7,199.0 L739.2,190.6 L741.8,182.3 L744.6,174.1 L747.6,166.0 L750.7,157.9 L754.1,149.9 L757.7,142.0 L757.7,142.0 L753.0,149.3 L748.7,156.9 L744.7,164.7 L741.1,172.8 L737.9,181.0 L735.1,189.4 L732.7,198.0 L730.6,206.7 L729.0,215.6 L727.7,224.6 L726.8,233.8 L726.1,243.1 L725.5,252.5 L725.1,262.0Z" fill="#4c9a4c"/><path d="M726.3,262.0 L727.1,252.6 L728.3,243.3 L730.1,234.3 L732.3,225.5 L734.9,216.9 L737.8,208.4 L740.9,200.2 L744.4,192.1 L748.2,184.1 L752.2,176.3 L756.6,168.6 L761.3,161.0 L766.3,153.4 L771.7,146.0 L771.7,146.0 L765.4,152.7 L759.6,159.8 L754.3,167.1 L749.4,174.6 L744.9,182.5 L741.0,190.5 L737.5,198.8 L734.5,207.3 L731.9,216.0 L729.8,224.9 L728.2,233.9 L727.0,243.1 L725.9,252.5 L725.1,262.0Z" fill="#8ec46e"/><path d="M726.4,262.0 L726.4,251.8 L726.7,241.7 L727.5,231.7 L728.3,221.9 L729.2,212.2 L730.1,202.7 L731.0,193.2 L732.0,183.9 L732.9,174.7 L733.9,165.5 L734.8,156.5 L735.8,147.6 L736.8,138.8 L737.7,130.0 L737.7,130.0 L735.3,138.5 L733.2,147.2 L731.4,156.0 L729.8,165.0 L728.4,174.1 L727.3,183.4 L726.4,192.8 L725.7,202.3 L725.3,212.0 L725.1,221.8 L725.0,231.6 L725.1,241.7 L725.2,251.8 L725.1,262.0Z" fill="#a6cf8a"/><path d="M726.3,262.0 L727.2,250.0 L728.3,238.7 L730.0,228.2 L732.0,218.4 L734.2,209.4 L736.6,201.1 L739.2,193.6 L742.0,186.9 L744.9,180.8 L748.0,175.4 L751.3,170.6 L754.8,166.5 L758.6,163.0 L762.7,160.0 L762.7,160.0 L757.9,162.0 L753.4,165.0 L749.2,168.8 L745.2,173.5 L741.7,179.0 L738.5,185.3 L735.7,192.4 L733.3,200.2 L731.2,208.7 L729.5,217.9 L728.1,227.9 L727.0,238.5 L726.0,249.9 L725.1,262.0Z" fill="#8ec46e"/><path d="M726.3,262.0 L727.3,246.9 L728.6,233.4 L730.5,221.7 L732.6,211.7 L734.9,203.4 L737.4,196.8 L740.0,192.0 L742.6,189.0 L745.1,187.5 L747.7,187.3 L751.1,188.4 L755.1,191.2 L759.7,195.8 L764.7,202.0 L764.7,202.0 L760.6,195.1 L756.5,189.8 L752.5,186.1 L748.4,184.0 L744.1,184.0 L740.1,186.1 L736.9,190.0 L734.2,195.4 L732.0,202.5 L730.1,211.1 L728.6,221.4 L727.3,233.3 L726.1,246.8 L725.1,262.0Z" fill="#4c9a4c"/><path d="M726.3,262.0 L727.0,248.2 L727.8,235.9 L729.2,225.1 L730.6,215.9 L732.2,208.2 L733.9,202.1 L735.7,197.5 L737.3,194.6 L738.7,193.2 L739.8,192.9 L741.6,193.6 L744.2,195.8 L747.3,199.6 L750.7,205.0 L750.7,205.0 L748.3,199.0 L745.9,194.5 L743.3,191.4 L740.4,189.6 L737.0,190.0 L734.3,192.3 L732.2,196.0 L730.6,201.1 L729.2,207.6 L728.1,215.5 L727.2,224.9 L726.5,235.8 L725.8,248.1 L725.1,262.0Z" fill="#3f8a48"/><path d="M726.3,262.0 L725.7,249.9 L725.0,238.7 L724.4,228.3 L723.7,218.7 L722.8,209.8 L721.8,201.8 L720.5,194.6 L719.0,188.2 L717.3,182.6 L715.4,177.9 L713.2,174.0 L710.8,171.0 L708.3,169.0 L705.7,168.0 L705.7,168.0 L707.6,169.8 L709.2,172.3 L710.8,175.4 L712.3,179.2 L713.9,183.8 L715.4,189.2 L716.9,195.4 L718.4,202.4 L719.8,210.3 L721.2,219.0 L722.5,228.5 L723.7,238.8 L724.5,250.0 L725.1,262.0Z" fill="#4c9a4c"/><path d="M726.3,262.0 L727.0,249.4 L727.9,237.8 L729.4,227.1 L731.0,217.5 L732.9,209.0 L734.9,201.4 L737.0,194.9 L739.2,189.3 L741.5,184.8 L743.9,181.2 L746.4,178.4 L749.1,176.5 L752.1,175.4 L755.7,175.0 L755.7,175.0 L752.1,174.2 L748.3,174.6 L744.7,176.2 L741.4,179.0 L738.4,182.8 L735.7,187.7 L733.4,193.6 L731.5,200.5 L729.9,208.3 L728.5,217.1 L727.5,226.9 L726.7,237.6 L725.8,249.3 L725.1,262.0Z" fill="#3f8a48"/><path d="M726.4,262.0 L726.3,252.5 L726.3,243.3 L726.5,234.3 L726.7,225.5 L726.7,216.9 L726.7,208.6 L726.6,200.4 L726.3,192.5 L725.9,184.9 L725.3,177.4 L724.6,170.2 L723.8,163.2 L722.8,156.5 L721.7,150.0 L721.7,150.0 L721.7,156.6 L721.7,163.4 L721.8,170.4 L722.0,177.6 L722.2,185.0 L722.5,192.7 L722.8,200.6 L723.2,208.7 L723.7,217.0 L724.1,225.5 L724.5,234.3 L725.0,243.3 L725.1,252.5 L725.1,262.0Z" fill="#3f8a48"/><path d="M665.3,108.0 L665.1,119.6 L664.9,131.2 L664.8,142.7 L664.6,154.0 L664.6,165.3 L664.5,176.4 L664.5,187.5 L664.5,198.5 L664.5,209.3 L664.6,220.1 L664.7,230.7 L664.8,241.3 L665.0,251.7 L665.2,262.0 L669.8,262.0 L669.6,251.6 L669.4,241.2 L669.3,230.7 L669.2,220.0 L669.1,209.3 L669.1,198.4 L669.1,187.5 L669.1,176.5 L669.2,165.3 L669.2,154.1 L669.4,142.7 L669.5,131.3 L669.7,119.7 L669.9,108.0Z" fill="#5f9e4e"/><path d="M699.2,103.0 L699.1,115.3 L699.1,127.5 L699.0,139.6 L698.9,151.5 L698.8,163.2 L698.8,174.8 L698.7,186.2 L698.6,197.5 L698.6,208.6 L698.5,219.6 L698.4,230.4 L698.3,241.1 L698.3,251.6 L698.2,262.0 L702.8,262.0 L702.9,251.7 L702.9,241.1 L703.0,230.5 L703.1,219.6 L703.2,208.7 L703.2,197.5 L703.3,186.3 L703.4,174.8 L703.4,163.2 L703.5,151.5 L703.6,139.6 L703.7,127.6 L703.7,115.4 L703.8,103.0Z" fill="#5f9e4e"/><path d="M724.7,106.0 L724.7,117.9 L724.7,129.7 L724.6,141.4 L724.6,153.0 L724.5,164.5 L724.5,175.8 L724.4,187.0 L724.3,198.1 L724.2,209.0 L724.0,219.8 L723.9,230.6 L723.7,241.1 L723.6,251.6 L723.4,262.0 L728.0,262.0 L728.2,251.7 L728.3,241.2 L728.5,230.6 L728.6,219.9 L728.8,209.1 L728.9,198.1 L729.0,187.0 L729.1,175.8 L729.1,164.5 L729.2,153.0 L729.2,141.5 L729.3,129.8 L729.3,117.9 L729.3,106.0Z" fill="#5f9e4e"/></g>
<g clip-path="url(#cB)"><path d="M436.3,158.0 L436.4,165.5 L436.6,172.9 L436.7,180.3 L436.9,187.8 L437.1,195.2 L437.3,202.6 L437.5,210.0 L437.6,217.5 L437.8,224.9 L438.0,232.3 L438.2,239.8 L438.5,247.2 L438.7,254.6 L438.9,262.0 L443.1,262.0 L443.0,254.5 L443.0,247.1 L442.9,239.7 L442.9,232.2 L442.9,224.8 L442.8,217.4 L442.8,210.0 L442.8,202.5 L442.8,195.1 L442.7,187.7 L442.7,180.3 L442.7,172.8 L442.7,165.4 L442.7,158.0Z" fill="#27737a"/><path d="M467.8,158.0 L467.8,165.4 L467.8,172.8 L467.8,180.3 L467.9,187.7 L467.9,195.1 L467.9,202.6 L467.9,210.0 L468.0,217.4 L468.0,224.8 L468.0,232.3 L468.0,239.7 L468.1,247.1 L468.1,254.6 L468.1,262.0 L471.9,262.0 L472.0,254.6 L472.1,247.2 L472.2,239.7 L472.3,232.3 L472.4,224.9 L472.5,217.4 L472.6,210.0 L472.7,202.6 L472.8,195.2 L472.9,187.7 L473.0,180.3 L473.1,172.9 L473.2,165.4 L473.2,158.0Z" fill="#27737a"/><path d="M504.8,158.0 L504.9,165.5 L505.1,172.9 L505.3,180.3 L505.5,187.8 L505.6,195.2 L505.8,202.6 L506.0,210.0 L506.2,217.5 L506.4,224.9 L506.5,232.3 L506.7,239.7 L506.9,247.2 L507.1,254.6 L507.3,262.0 L511.7,262.0 L511.7,254.5 L511.7,247.1 L511.6,239.7 L511.6,232.2 L511.6,224.8 L511.5,217.4 L511.5,210.0 L511.5,202.5 L511.4,195.1 L511.4,187.7 L511.4,180.2 L511.3,172.8 L511.3,165.4 L511.2,158.0Z" fill="#27737a"/><path d="M430.8,158.3 L431.3,160.9 L431.9,163.5 L432.5,166.2 L433.1,168.8 L433.6,171.5 L434.2,174.1 L434.8,176.8 L435.3,179.4 L435.9,182.0 L436.5,184.7 L437.1,187.3 L437.6,190.0 L438.2,192.6 L438.8,195.3 L441.2,194.7 L440.7,192.1 L440.1,189.5 L439.5,186.8 L438.9,184.2 L438.4,181.5 L437.8,178.9 L437.2,176.2 L436.7,173.6 L436.1,171.0 L435.5,168.3 L434.9,165.7 L434.4,163.0 L433.8,160.4 L433.2,157.7Z" fill="#3a8a80"/><path d="M445.8,157.8 L445.3,160.4 L444.8,163.1 L444.3,165.7 L443.8,168.3 L443.3,171.0 L442.8,173.6 L442.3,176.3 L441.8,178.9 L441.3,181.6 L440.8,184.2 L440.3,186.8 L439.8,189.5 L439.3,192.1 L438.8,194.8 L441.2,195.2 L441.7,192.6 L442.2,189.9 L442.7,187.3 L443.2,184.7 L443.7,182.0 L444.2,179.4 L444.7,176.7 L445.2,174.1 L445.7,171.4 L446.2,168.8 L446.7,166.2 L447.2,163.5 L447.7,160.9 L448.2,158.2Z" fill="#3a8a80"/><path d="M461.9,158.2 L462.4,160.5 L462.9,162.8 L463.4,165.1 L463.9,167.4 L464.4,169.7 L464.9,171.9 L465.4,174.2 L465.9,176.5 L466.4,178.8 L466.9,181.1 L467.4,183.4 L467.9,185.7 L468.4,187.9 L468.9,190.2 L471.1,189.8 L470.6,187.5 L470.1,185.2 L469.6,182.9 L469.1,180.6 L468.6,178.3 L468.1,176.1 L467.6,173.8 L467.1,171.5 L466.6,169.2 L466.1,166.9 L465.6,164.6 L465.1,162.3 L464.6,160.1 L464.1,157.8Z" fill="#3a8a80"/><path d="M474.9,157.8 L474.5,160.1 L474.1,162.4 L473.6,164.7 L473.2,166.9 L472.8,169.2 L472.3,171.5 L471.9,173.8 L471.5,176.1 L471.1,178.4 L470.6,180.7 L470.2,182.9 L469.8,185.2 L469.3,187.5 L468.9,189.8 L471.1,190.2 L471.5,187.9 L471.9,185.6 L472.4,183.3 L472.8,181.1 L473.2,178.8 L473.7,176.5 L474.1,174.2 L474.5,171.9 L474.9,169.6 L475.4,167.3 L475.8,165.1 L476.2,162.8 L476.7,160.5 L477.1,158.2Z" fill="#3a8a80"/><path d="M498.8,158.3 L499.4,160.7 L500.0,163.1 L500.5,165.6 L501.1,168.0 L501.7,170.4 L502.3,172.8 L502.8,175.3 L503.4,177.7 L504.0,180.1 L504.5,182.6 L505.1,185.0 L505.7,187.4 L506.3,189.8 L506.8,192.3 L509.2,191.7 L508.6,189.3 L508.0,186.9 L507.5,184.4 L506.9,182.0 L506.3,179.6 L505.7,177.2 L505.2,174.7 L504.6,172.3 L504.0,169.9 L503.5,167.4 L502.9,165.0 L502.3,162.6 L501.7,160.2 L501.2,157.7Z" fill="#3a8a80"/><path d="M516.8,157.7 L516.2,160.1 L515.6,162.6 L514.9,165.0 L514.3,167.4 L513.6,169.8 L513.0,172.3 L512.3,174.7 L511.7,177.1 L511.1,179.6 L510.4,182.0 L509.8,184.4 L509.1,186.8 L508.5,189.3 L507.8,191.7 L510.2,192.3 L510.8,189.9 L511.4,187.4 L512.1,185.0 L512.7,182.6 L513.4,180.2 L514.0,177.7 L514.7,175.3 L515.3,172.9 L515.9,170.4 L516.6,168.0 L517.2,165.6 L517.9,163.2 L518.5,160.7 L519.2,158.3Z" fill="#3a8a80"/><path d="M383.9,183.4 L388.0,183.3 L391.8,182.7 L395.5,182.0 L399.1,181.3 L402.6,180.5 L406.0,179.7 L409.5,178.8 L412.9,177.9 L416.3,176.9 L419.7,175.9 L423.2,174.8 L426.7,173.6 L430.3,172.3 L434.0,170.4 L434.0,170.4 L430.1,168.8 L426.2,168.1 L422.3,167.7 L418.4,167.6 L414.5,167.8 L410.7,168.3 L406.9,169.2 L403.2,170.3 L399.6,171.7 L396.1,173.4 L392.8,175.3 L389.6,177.6 L386.5,180.1 L383.9,183.4Z" fill="#2b7774"/><path d="M408.8,193.2 L411.2,192.6 L413.3,191.7 L415.3,190.7 L417.2,189.6 L419.1,188.4 L420.9,187.2 L422.6,185.9 L424.3,184.5 L425.9,183.1 L427.5,181.6 L429.0,180.0 L430.4,178.3 L431.8,176.5 L433.0,174.3 L433.0,174.3 L430.5,174.6 L428.3,175.3 L426.2,176.2 L424.2,177.2 L422.3,178.3 L420.4,179.5 L418.6,180.8 L416.9,182.2 L415.3,183.7 L413.7,185.4 L412.3,187.1 L410.9,188.9 L409.7,190.9 L408.8,193.2Z" fill="#2a7672"/><path d="M399.0,161.0 L401.7,161.6 L404.4,161.8 L407.1,161.9 L409.7,162.0 L412.4,162.0 L415.0,161.9 L417.6,161.7 L420.3,161.5 L422.9,161.3 L425.5,160.9 L428.1,160.5 L430.7,160.0 L433.4,159.4 L436.0,158.5 L436.0,158.5 L433.3,157.7 L430.7,157.2 L428.0,156.9 L425.3,156.7 L422.6,156.6 L420.0,156.6 L417.3,156.8 L414.6,157.0 L412.0,157.3 L409.4,157.8 L406.7,158.3 L404.1,159.0 L401.5,159.8 L399.0,161.0Z" fill="#3a8878"/><path d="M448.6,159.3 L452.6,160.0 L456.6,160.4 L460.6,160.7 L464.6,161.0 L468.5,161.2 L472.5,161.3 L476.5,161.4 L480.4,161.5 L484.4,161.5 L488.4,161.5 L492.4,161.4 L496.4,161.3 L500.4,161.1 L504.4,160.6 L504.4,160.6 L500.5,159.5 L496.5,158.8 L492.5,158.2 L488.6,157.7 L484.6,157.4 L480.6,157.1 L476.6,157.0 L472.6,156.9 L468.6,157.0 L464.6,157.2 L460.6,157.5 L456.6,157.9 L452.6,158.4 L448.6,159.3Z" fill="#2e7a78"/><path d="M443.3,190.0 L445.4,188.4 L447.3,186.6 L449.0,184.8 L450.7,183.0 L452.4,181.1 L454.0,179.2 L455.5,177.2 L457.0,175.2 L458.4,173.2 L459.8,171.1 L461.1,168.9 L462.4,166.7 L463.5,164.5 L464.5,162.0 L464.5,162.0 L462.2,163.4 L460.2,165.0 L458.3,166.7 L456.5,168.4 L454.7,170.3 L453.1,172.2 L451.5,174.2 L450.0,176.2 L448.6,178.4 L447.3,180.5 L446.1,182.8 L445.0,185.1 L444.0,187.4 L443.3,190.0Z" fill="#3a9a80"/><path d="M447.0,187.0 L448.9,185.6 L450.7,184.1 L452.4,182.5 L454.0,180.9 L455.6,179.3 L457.1,177.7 L458.6,176.0 L460.1,174.3 L461.5,172.5 L462.9,170.7 L464.3,168.9 L465.6,167.0 L466.9,165.1 L468.0,163.0 L468.0,163.0 L465.9,164.1 L464.0,165.5 L462.2,166.9 L460.5,168.4 L458.8,170.0 L457.2,171.7 L455.6,173.4 L454.1,175.1 L452.7,176.9 L451.4,178.8 L450.1,180.7 L448.9,182.7 L447.9,184.8 L447.0,187.0Z" fill="#2d7d74"/><path d="M451,185 Q468,171 486,167 Q500,169 506,178 Q497,187 483,190 Q466,191 451,185Z" fill="#2a7878"/><path d="M478.0,186.0 L478.8,187.7 L479.9,189.3 L481.0,190.8 L482.1,192.2 L483.4,193.6 L484.7,194.9 L486.0,196.2 L487.4,197.4 L488.9,198.5 L490.4,199.6 L491.9,200.6 L493.5,201.5 L495.2,202.4 L497.0,203.0 L497.0,203.0 L495.9,201.4 L494.7,200.0 L493.5,198.6 L492.2,197.3 L491.0,196.0 L489.7,194.8 L488.3,193.6 L487.0,192.4 L485.6,191.2 L484.2,190.1 L482.7,189.0 L481.2,187.9 L479.7,186.9 L478.0,186.0Z" fill="#2a7870"/><path d="M477.8,193.8 L478.6,194.9 L479.6,195.7 L480.6,196.5 L481.6,197.2 L482.7,197.9 L483.8,198.5 L485.0,199.0 L486.1,199.4 L487.3,199.8 L488.6,200.1 L489.8,200.4 L491.1,200.6 L492.4,200.6 L493.7,200.5 L493.7,200.5 L492.7,199.6 L491.6,199.0 L490.5,198.4 L489.4,197.8 L488.3,197.2 L487.2,196.7 L486.1,196.2 L485.0,195.8 L483.9,195.3 L482.7,195.0 L481.6,194.6 L480.4,194.2 L479.1,193.9 L477.8,193.8Z" fill="#2a7870"/><path d="M480.5,190.0 L481.1,190.7 L481.8,191.2 L482.4,191.7 L483.1,192.1 L483.9,192.4 L484.6,192.8 L485.3,193.1 L486.1,193.3 L486.9,193.5 L487.6,193.7 L488.4,193.8 L489.3,193.9 L490.1,193.9 L491.0,193.8 L491.0,193.8 L490.4,193.1 L489.7,192.6 L489.1,192.1 L488.4,191.7 L487.6,191.4 L486.9,191.0 L486.2,190.7 L485.4,190.5 L484.6,190.3 L483.9,190.1 L483.1,190.0 L482.2,189.9 L481.4,189.9 L480.5,190.0Z" fill="#2a7870"/><path d="M516.3,160.6 L517.8,162.8 L519.4,164.5 L521.1,166.0 L522.7,167.4 L524.5,168.8 L526.2,170.0 L528.1,171.2 L529.9,172.2 L531.8,173.2 L533.8,174.1 L535.9,174.9 L538.0,175.7 L540.3,176.3 L542.9,176.6 L542.9,176.6 L542.0,174.1 L540.7,172.1 L539.2,170.2 L537.6,168.5 L535.9,167.0 L534.1,165.6 L532.2,164.3 L530.2,163.2 L528.1,162.3 L525.9,161.5 L523.6,160.9 L521.3,160.5 L518.9,160.2 L516.3,160.6Z" fill="#2a7672"/><path d="M534.0,184.0 L535.7,185.8 L537.5,187.3 L539.4,188.8 L541.3,190.2 L543.2,191.5 L545.1,192.8 L547.1,194.0 L549.1,195.2 L551.1,196.3 L553.2,197.4 L555.3,198.4 L557.4,199.4 L559.6,200.3 L562.0,201.0 L562.0,201.0 L560.5,199.0 L558.8,197.3 L557.1,195.7 L555.2,194.2 L553.4,192.8 L551.4,191.4 L549.4,190.1 L547.4,189.0 L545.3,187.9 L543.2,186.9 L541.0,185.9 L538.7,185.1 L536.4,184.4 L534.0,184.0Z" fill="#2e7a6e"/><path d="M430.0,172.6 L430.0,173.4 L430.2,174.1 L430.5,174.7 L430.8,175.3 L431.1,175.8 L431.5,176.4 L431.9,176.8 L432.4,177.3 L432.8,177.7 L433.4,178.0 L433.9,178.4 L434.5,178.7 L435.2,178.9 L436.0,179.0 L436.0,179.0 L436.0,178.2 L435.8,177.5 L435.5,176.9 L435.2,176.3 L434.9,175.8 L434.5,175.2 L434.1,174.8 L433.6,174.3 L433.2,173.9 L432.6,173.6 L432.1,173.2 L431.5,172.9 L430.8,172.7 L430.0,172.6Z" fill="#2a7672"/><path d="M668.1,262.0 L667.7,251.7 L667.3,241.3 L666.8,231.0 L666.0,220.5 L664.8,210.1 L663.4,199.7 L661.5,189.2 L659.3,178.8 L656.6,168.4 L653.6,158.0 L650.1,147.7 L646.3,137.4 L642.1,127.2 L637.5,117.0 L637.5,117.0 L640.6,127.7 L643.6,138.3 L646.5,148.8 L649.2,159.3 L651.7,169.6 L654.2,180.0 L656.5,190.3 L658.7,200.5 L660.7,210.8 L662.5,221.0 L664.1,231.2 L665.5,241.5 L666.5,251.7 L666.9,262.0Z" fill="#5aa498"/><path d="M668.1,262.0 L667.5,252.5 L666.7,243.1 L665.9,233.8 L664.8,224.6 L663.5,215.5 L661.8,206.6 L659.8,197.8 L657.5,189.2 L654.8,180.7 L651.8,172.4 L648.5,164.3 L644.8,156.3 L640.8,148.6 L636.5,141.0 L636.5,141.0 L639.9,149.0 L643.2,157.1 L646.2,165.2 L649.1,173.4 L651.8,181.7 L654.3,190.1 L656.7,198.7 L658.9,207.3 L660.8,216.1 L662.6,225.0 L664.2,234.0 L665.6,243.2 L666.3,252.5 L666.9,262.0Z" fill="#4f9a90"/><path d="M668.1,262.0 L667.9,251.7 L667.7,241.5 L667.6,231.3 L667.3,221.2 L666.8,211.2 L666.1,201.2 L665.1,191.2 L663.8,181.3 L662.3,171.6 L660.5,161.8 L658.4,152.2 L656.0,142.7 L653.4,133.3 L650.5,124.0 L650.5,124.0 L652.0,133.6 L653.5,143.2 L655.0,152.9 L656.4,162.6 L657.7,172.3 L659.1,182.0 L660.4,191.8 L661.7,201.6 L663.0,211.5 L664.1,221.5 L665.2,231.5 L666.1,241.6 L666.7,251.8 L666.9,262.0Z" fill="#5aa498"/><path d="M668.1,262.0 L668.3,251.8 L668.9,241.6 L669.8,231.4 L670.9,221.4 L672.0,211.4 L673.3,201.4 L674.6,191.5 L675.9,181.7 L677.3,171.8 L678.6,162.0 L680.0,152.3 L681.5,142.5 L683.0,132.8 L684.5,123.0 L684.5,123.0 L681.6,132.4 L679.0,142.0 L676.6,151.6 L674.5,161.3 L672.7,171.1 L671.2,181.0 L669.9,191.0 L668.9,201.0 L668.2,211.0 L667.7,221.1 L667.4,231.3 L667.3,241.5 L667.1,251.7 L666.9,262.0Z" fill="#62aa9e"/><path d="M668.1,262.0 L668.6,252.5 L669.4,243.2 L670.8,234.0 L672.5,224.9 L674.5,216.0 L676.8,207.2 L679.3,198.5 L682.0,190.0 L685.0,181.5 L688.2,173.1 L691.7,164.7 L695.4,156.4 L699.3,148.2 L703.5,140.0 L703.5,140.0 L698.3,147.6 L693.5,155.5 L689.1,163.5 L685.2,171.8 L681.6,180.2 L678.4,188.7 L675.7,197.5 L673.4,206.3 L671.5,215.4 L670.0,224.5 L668.9,233.7 L668.1,243.0 L667.3,252.5 L666.9,262.0Z" fill="#2e8478"/><path d="M668.1,262.0 L667.9,252.5 L667.6,243.3 L667.5,234.2 L667.3,225.4 L666.9,216.8 L666.4,208.4 L665.6,200.3 L664.6,192.4 L663.5,184.7 L662.1,177.2 L660.5,170.0 L658.7,163.1 L656.7,156.4 L654.5,150.0 L654.5,150.0 L655.6,156.7 L656.7,163.5 L657.8,170.6 L658.8,177.8 L659.9,185.2 L660.9,192.9 L661.9,200.7 L662.9,208.8 L663.8,217.1 L664.8,225.6 L665.6,234.3 L666.3,243.3 L666.7,252.6 L666.9,262.0Z" fill="#2e8478"/><path d="M668.1,262.0 L668.4,252.6 L668.9,243.3 L669.9,234.4 L671.1,225.7 L672.4,217.2 L673.9,208.9 L675.6,200.9 L677.3,193.1 L679.2,185.4 L681.2,178.0 L683.4,170.8 L685.6,163.7 L688.0,156.8 L690.5,150.0 L690.5,150.0 L686.9,156.3 L683.7,162.9 L680.7,169.8 L678.1,177.0 L675.7,184.5 L673.7,192.2 L671.9,200.1 L670.5,208.3 L669.4,216.7 L668.5,225.4 L667.9,234.2 L667.6,243.3 L667.1,252.5 L666.9,262.0Z" fill="#2a7a70"/><path d="M668.1,262.0 L668.1,251.7 L668.0,241.3 L668.2,230.8 L668.2,220.3 L668.1,209.8 L668.0,199.1 L667.6,188.4 L667.1,177.7 L666.4,166.8 L665.6,156.0 L664.6,145.1 L663.4,134.1 L662.0,123.1 L660.5,112.0 L660.5,112.0 L660.9,123.2 L661.3,134.2 L661.8,145.3 L662.3,156.2 L662.8,167.1 L663.3,177.9 L663.9,188.6 L664.5,199.3 L665.1,209.9 L665.7,220.4 L666.2,230.9 L666.7,241.3 L666.9,251.7 L666.9,262.0Z" fill="#62aa9e"/><path d="M668.1,262.0 L667.1,248.6 L666.1,236.2 L665.1,224.9 L663.9,214.5 L662.4,205.1 L660.6,196.7 L658.5,189.3 L656.1,182.9 L653.3,177.6 L650.2,173.3 L646.7,170.1 L643.0,168.1 L639.2,167.4 L635.5,168.0 L635.5,168.0 L639.0,168.7 L642.0,170.2 L644.7,172.5 L647.3,175.6 L649.7,179.6 L652.2,184.7 L654.5,190.7 L656.8,197.7 L659.0,205.8 L661.0,215.0 L662.9,225.2 L664.7,236.4 L665.9,248.7 L666.9,262.0Z" fill="#62aa9e"/><path d="M668.1,262.0 L667.5,249.4 L666.7,237.8 L666.1,227.4 L665.3,218.0 L664.4,209.7 L663.2,202.4 L661.8,196.2 L660.1,191.1 L658.2,187.0 L655.9,184.0 L653.2,182.3 L650.4,181.9 L647.8,182.9 L645.5,185.0 L645.5,185.0 L648.2,183.9 L650.3,183.9 L651.9,184.7 L653.4,186.3 L655.0,188.8 L656.6,192.5 L658.2,197.3 L659.8,203.2 L661.3,210.2 L662.8,218.3 L664.2,227.6 L665.4,237.9 L666.3,249.4 L666.9,262.0Z" fill="#2e8478"/><path d="M668.1,262.0 L669.0,249.4 L670.1,237.8 L671.7,227.1 L673.3,217.5 L675.1,208.9 L676.9,201.4 L678.8,194.8 L680.7,189.2 L682.6,184.6 L684.6,181.0 L686.5,178.3 L688.5,176.5 L690.8,175.4 L693.5,175.0 L693.5,175.0 L690.7,174.2 L687.6,174.6 L684.6,176.3 L681.9,179.1 L679.4,183.0 L677.2,187.9 L675.2,193.7 L673.5,200.6 L672.1,208.4 L670.8,217.2 L669.8,226.9 L668.9,237.6 L667.8,249.3 L666.9,262.0Z" fill="#2e8478"/><path d="M668.1,262.0 L668.1,251.8 L668.3,241.8 L668.9,232.0 L669.5,222.3 L670.2,212.8 L670.9,203.5 L671.6,194.4 L672.3,185.4 L673.0,176.6 L673.7,168.0 L674.4,159.5 L675.1,151.2 L675.8,143.0 L676.5,135.0 L676.5,135.0 L674.7,142.9 L673.1,150.9 L671.7,159.2 L670.4,167.6 L669.4,176.3 L668.5,185.1 L667.9,194.1 L667.4,203.3 L667.1,212.7 L667.0,222.2 L666.9,231.9 L667.0,241.8 L666.9,251.8 L666.9,262.0Z" fill="#5aa498"/><path d="M701.1,262.0 L700.7,252.5 L700.0,243.0 L699.3,233.7 L698.3,224.5 L696.9,215.4 L695.2,206.4 L693.1,197.5 L690.6,188.8 L687.7,180.2 L684.4,171.8 L680.7,163.6 L676.7,155.5 L672.3,147.7 L667.5,140.0 L667.5,140.0 L671.3,148.2 L674.8,156.4 L678.2,164.7 L681.3,173.0 L684.2,181.4 L686.9,189.9 L689.4,198.5 L691.8,207.2 L693.9,216.0 L695.7,224.9 L697.3,234.0 L698.7,243.2 L699.5,252.5 L699.9,262.0Z" fill="#2e8478"/><path d="M701.1,262.0 L700.9,251.7 L700.7,241.6 L700.6,231.5 L700.3,221.6 L699.9,211.7 L699.2,201.9 L698.3,192.3 L697.2,182.7 L695.9,173.3 L694.3,164.0 L692.5,154.8 L690.4,145.7 L688.1,136.8 L685.5,128.0 L685.5,128.0 L686.8,137.0 L688.1,146.1 L689.4,155.3 L690.6,164.5 L691.8,173.9 L693.0,183.2 L694.2,192.7 L695.3,202.3 L696.4,212.0 L697.4,221.8 L698.4,231.7 L699.2,241.7 L699.7,251.8 L699.9,262.0Z" fill="#5aa498"/><path d="M701.1,262.0 L701.1,251.7 L701.6,241.5 L702.3,231.4 L703.0,221.3 L703.7,211.3 L704.4,201.3 L705.0,191.4 L705.6,181.5 L706.1,171.7 L706.6,161.9 L706.9,152.1 L707.2,142.4 L707.4,132.7 L707.5,123.0 L707.5,123.0 L705.7,132.5 L704.1,142.1 L702.7,151.8 L701.6,161.5 L700.6,171.3 L699.9,181.2 L699.5,191.1 L699.2,201.1 L699.1,211.1 L699.2,221.2 L699.4,231.3 L699.7,241.5 L699.9,251.7 L699.9,262.0Z" fill="#62aa9e"/><path d="M701.1,262.0 L701.3,251.8 L701.9,241.5 L702.8,231.4 L704.0,221.3 L705.2,211.3 L706.6,201.3 L708.1,191.3 L709.6,181.4 L711.3,171.4 L713.0,161.6 L714.7,151.7 L716.6,141.8 L718.5,131.9 L720.5,122.0 L720.5,122.0 L717.3,131.6 L714.3,141.2 L711.6,151.0 L709.3,160.8 L707.2,170.7 L705.4,180.7 L703.9,190.7 L702.7,200.8 L701.8,210.9 L701.1,221.1 L700.7,231.3 L700.4,241.5 L700.1,251.7 L699.9,262.0Z" fill="#5aa498"/><path d="M701.1,262.0 L701.5,252.5 L702.2,243.2 L703.5,233.9 L704.9,224.9 L706.6,215.9 L708.5,207.1 L710.6,198.4 L712.8,189.8 L715.2,181.4 L717.7,172.9 L720.4,164.6 L723.2,156.4 L726.3,148.2 L729.5,140.0 L729.5,140.0 L725.2,147.7 L721.3,155.6 L717.8,163.6 L714.5,171.9 L711.6,180.3 L709.1,188.9 L706.9,197.6 L705.1,206.4 L703.6,215.4 L702.4,224.5 L701.5,233.7 L700.9,243.0 L700.3,252.5 L699.9,262.0Z" fill="#2e8478"/><path d="M701.1,262.0 L700.3,249.3 L699.5,237.5 L698.9,226.7 L698.1,216.8 L697.2,207.8 L696.1,199.7 L694.8,192.6 L693.4,186.4 L691.7,181.1 L689.8,176.8 L687.6,173.5 L685.3,171.1 L682.8,169.9 L680.5,170.0 L680.5,170.0 L682.4,171.0 L683.9,172.6 L685.3,175.0 L686.7,178.2 L688.2,182.3 L689.7,187.4 L691.2,193.4 L692.7,200.3 L694.1,208.2 L695.6,217.1 L696.9,226.9 L698.2,237.6 L699.1,249.4 L699.9,262.0Z" fill="#2e8478"/><path d="M701.1,262.0 L701.9,249.4 L702.8,237.6 L704.2,226.8 L705.6,216.9 L707.1,208.0 L708.7,200.0 L710.3,192.9 L712.0,186.8 L713.6,181.5 L715.3,177.2 L716.9,173.8 L718.6,171.1 L720.4,169.3 L722.5,168.0 L722.5,168.0 L719.9,168.2 L717.2,169.7 L714.6,172.2 L712.3,175.8 L710.2,180.3 L708.3,185.7 L706.7,192.1 L705.3,199.3 L704.1,207.5 L703.1,216.6 L702.2,226.6 L701.5,237.5 L700.7,249.3 L699.9,262.0Z" fill="#2e8478"/><path d="M701.1,262.0 L701.1,252.5 L701.0,243.3 L701.1,234.3 L701.1,225.5 L701.0,216.9 L700.8,208.5 L700.4,200.4 L699.8,192.5 L699.0,184.8 L698.1,177.3 L696.9,170.1 L695.6,163.2 L694.2,156.5 L692.5,150.0 L692.5,150.0 L693.0,156.6 L693.6,163.5 L694.2,170.5 L694.8,177.7 L695.4,185.1 L696.0,192.8 L696.6,200.6 L697.3,208.7 L697.9,217.0 L698.6,225.6 L699.2,234.3 L699.7,243.3 L699.9,252.5 L699.9,262.0Z" fill="#2a7a70"/><path d="M701.1,262.0 L701.3,252.5 L701.7,243.3 L702.4,234.3 L703.3,225.4 L704.3,216.8 L705.3,208.4 L706.4,200.2 L707.4,192.2 L708.6,184.4 L709.7,176.8 L710.8,169.3 L712.0,162.1 L713.3,155.0 L714.5,148.0 L714.5,148.0 L712.1,154.7 L710.0,161.6 L708.1,168.8 L706.4,176.2 L704.9,183.8 L703.7,191.7 L702.6,199.8 L701.8,208.1 L701.2,216.6 L700.8,225.3 L700.5,234.1 L700.4,243.2 L700.1,252.5 L699.9,262.0Z" fill="#2a7a70"/><path d="M726.3,262.0 L725.9,252.5 L725.4,243.1 L724.9,233.7 L724.3,224.5 L723.4,215.5 L722.2,206.5 L720.8,197.7 L719.1,188.9 L717.1,180.4 L714.8,172.0 L712.2,163.7 L709.3,155.6 L706.1,147.7 L702.7,140.0 L702.7,140.0 L705.1,148.1 L707.3,156.3 L709.5,164.5 L711.5,172.8 L713.5,181.2 L715.4,189.7 L717.1,198.3 L718.8,207.1 L720.3,215.9 L721.7,224.8 L723.0,233.9 L724.1,243.1 L724.7,252.5 L725.1,262.0Z" fill="#2e8478"/><path d="M726.3,262.0 L726.1,251.7 L725.9,241.5 L725.9,231.3 L725.7,221.1 L725.4,211.0 L725.0,200.9 L724.3,190.8 L723.4,180.8 L722.3,170.9 L721.0,161.0 L719.5,151.1 L717.8,141.4 L715.9,131.6 L713.7,122.0 L713.7,122.0 L714.6,131.8 L715.5,141.7 L716.4,151.5 L717.3,161.4 L718.2,171.3 L719.2,181.2 L720.1,191.2 L721.1,201.2 L722.0,211.2 L722.9,221.3 L723.7,231.4 L724.5,241.5 L724.9,251.7 L725.1,262.0Z" fill="#5aa498"/><path d="M726.3,262.0 L726.6,251.8 L727.0,241.6 L728.0,231.4 L729.2,221.4 L730.5,211.4 L732.1,201.4 L733.7,191.5 L735.5,181.7 L737.4,171.9 L739.4,162.1 L741.5,152.3 L743.8,142.5 L746.2,132.8 L748.7,123.0 L748.7,123.0 L745.1,132.4 L741.9,142.0 L739.0,151.6 L736.3,161.3 L734.0,171.1 L731.9,181.0 L730.2,191.0 L728.8,201.0 L727.6,211.0 L726.8,221.1 L726.2,231.3 L725.8,241.5 L725.3,251.7 L725.1,262.0Z" fill="#4f9a90"/><path d="M726.3,262.0 L726.7,252.5 L727.6,243.2 L728.9,234.1 L730.5,225.1 L732.4,216.3 L734.5,207.6 L736.7,199.0 L739.2,190.6 L741.8,182.3 L744.6,174.1 L747.6,166.0 L750.7,157.9 L754.1,149.9 L757.7,142.0 L757.7,142.0 L753.0,149.3 L748.7,156.9 L744.7,164.7 L741.1,172.8 L737.9,181.0 L735.1,189.4 L732.7,198.0 L730.6,206.7 L729.0,215.6 L727.7,224.6 L726.8,233.8 L726.1,243.1 L725.5,252.5 L725.1,262.0Z" fill="#2e8478"/><path d="M726.3,262.0 L727.1,252.6 L728.3,243.3 L730.1,234.3 L732.3,225.5 L734.9,216.9 L737.8,208.4 L740.9,200.2 L744.4,192.1 L748.2,184.1 L752.2,176.3 L756.6,168.6 L761.3,161.0 L766.3,153.4 L771.7,146.0 L771.7,146.0 L765.4,152.7 L759.6,159.8 L754.3,167.1 L749.4,174.6 L744.9,182.5 L741.0,190.5 L737.5,198.8 L734.5,207.3 L731.9,216.0 L729.8,224.9 L728.2,233.9 L727.0,243.1 L725.9,252.5 L725.1,262.0Z" fill="#5aa498"/><path d="M726.4,262.0 L726.4,251.8 L726.7,241.7 L727.5,231.7 L728.3,221.9 L729.2,212.2 L730.1,202.7 L731.0,193.2 L732.0,183.9 L732.9,174.7 L733.9,165.5 L734.8,156.5 L735.8,147.6 L736.8,138.8 L737.7,130.0 L737.7,130.0 L735.3,138.5 L733.2,147.2 L731.4,156.0 L729.8,165.0 L728.4,174.1 L727.3,183.4 L726.4,192.8 L725.7,202.3 L725.3,212.0 L725.1,221.8 L725.0,231.6 L725.1,241.7 L725.2,251.8 L725.1,262.0Z" fill="#62aa9e"/><path d="M726.3,262.0 L727.2,250.0 L728.3,238.7 L730.0,228.2 L732.0,218.4 L734.2,209.4 L736.6,201.1 L739.2,193.6 L742.0,186.9 L744.9,180.8 L748.0,175.4 L751.3,170.6 L754.8,166.5 L758.6,163.0 L762.7,160.0 L762.7,160.0 L757.9,162.0 L753.4,165.0 L749.2,168.8 L745.2,173.5 L741.7,179.0 L738.5,185.3 L735.7,192.4 L733.3,200.2 L731.2,208.7 L729.5,217.9 L728.1,227.9 L727.0,238.5 L726.0,249.9 L725.1,262.0Z" fill="#5aa498"/><path d="M726.3,262.0 L727.3,246.9 L728.6,233.4 L730.5,221.7 L732.6,211.7 L734.9,203.4 L737.4,196.8 L740.0,192.0 L742.6,189.0 L745.1,187.5 L747.7,187.3 L751.1,188.4 L755.1,191.2 L759.7,195.8 L764.7,202.0 L764.7,202.0 L760.6,195.1 L756.5,189.8 L752.5,186.1 L748.4,184.0 L744.1,184.0 L740.1,186.1 L736.9,190.0 L734.2,195.4 L732.0,202.5 L730.1,211.1 L728.6,221.4 L727.3,233.3 L726.1,246.8 L725.1,262.0Z" fill="#2e8478"/><path d="M726.3,262.0 L727.0,248.2 L727.8,235.9 L729.2,225.1 L730.6,215.9 L732.2,208.2 L733.9,202.1 L735.7,197.5 L737.3,194.6 L738.7,193.2 L739.8,192.9 L741.6,193.6 L744.2,195.8 L747.3,199.6 L750.7,205.0 L750.7,205.0 L748.3,199.0 L745.9,194.5 L743.3,191.4 L740.4,189.6 L737.0,190.0 L734.3,192.3 L732.2,196.0 L730.6,201.1 L729.2,207.6 L728.1,215.5 L727.2,224.9 L726.5,235.8 L725.8,248.1 L725.1,262.0Z" fill="#2a7a70"/><path d="M726.3,262.0 L725.7,249.9 L725.0,238.7 L724.4,228.3 L723.7,218.7 L722.8,209.8 L721.8,201.8 L720.5,194.6 L719.0,188.2 L717.3,182.6 L715.4,177.9 L713.2,174.0 L710.8,171.0 L708.3,169.0 L705.7,168.0 L705.7,168.0 L707.6,169.8 L709.2,172.3 L710.8,175.4 L712.3,179.2 L713.9,183.8 L715.4,189.2 L716.9,195.4 L718.4,202.4 L719.8,210.3 L721.2,219.0 L722.5,228.5 L723.7,238.8 L724.5,250.0 L725.1,262.0Z" fill="#2e8478"/><path d="M726.3,262.0 L727.0,249.4 L727.9,237.8 L729.4,227.1 L731.0,217.5 L732.9,209.0 L734.9,201.4 L737.0,194.9 L739.2,189.3 L741.5,184.8 L743.9,181.2 L746.4,178.4 L749.1,176.5 L752.1,175.4 L755.7,175.0 L755.7,175.0 L752.1,174.2 L748.3,174.6 L744.7,176.2 L741.4,179.0 L738.4,182.8 L735.7,187.7 L733.4,193.6 L731.5,200.5 L729.9,208.3 L728.5,217.1 L727.5,226.9 L726.7,237.6 L725.8,249.3 L725.1,262.0Z" fill="#2a7a70"/><path d="M726.4,262.0 L726.3,252.5 L726.3,243.3 L726.5,234.3 L726.7,225.5 L726.7,216.9 L726.7,208.6 L726.6,200.4 L726.3,192.5 L725.9,184.9 L725.3,177.4 L724.6,170.2 L723.8,163.2 L722.8,156.5 L721.7,150.0 L721.7,150.0 L721.7,156.6 L721.7,163.4 L721.8,170.4 L722.0,177.6 L722.2,185.0 L722.5,192.7 L722.8,200.6 L723.2,208.7 L723.7,217.0 L724.1,225.5 L724.5,234.3 L725.0,243.3 L725.1,252.5 L725.1,262.0Z" fill="#2a7a70"/><path d="M665.2,108.0 L665.0,119.6 L664.8,131.2 L664.7,142.7 L664.5,154.0 L664.5,165.3 L664.4,176.4 L664.4,187.5 L664.4,198.5 L664.4,209.3 L664.5,220.1 L664.6,230.7 L664.7,241.3 L664.9,251.7 L665.1,262.0 L669.9,262.0 L669.7,251.6 L669.5,241.2 L669.4,230.7 L669.3,220.0 L669.2,209.3 L669.2,198.4 L669.2,187.5 L669.2,176.5 L669.3,165.3 L669.3,154.1 L669.5,142.7 L669.6,131.3 L669.8,119.7 L670.0,108.0Z" fill="#2a7c74"/><path d="M699.1,103.0 L699.0,115.3 L699.0,127.5 L698.9,139.6 L698.8,151.5 L698.7,163.2 L698.7,174.8 L698.6,186.2 L698.5,197.5 L698.5,208.6 L698.4,219.6 L698.3,230.4 L698.2,241.1 L698.2,251.6 L698.1,262.0 L702.9,262.0 L703.0,251.7 L703.0,241.1 L703.1,230.5 L703.2,219.6 L703.3,208.7 L703.3,197.5 L703.4,186.3 L703.5,174.8 L703.5,163.2 L703.6,151.5 L703.7,139.6 L703.8,127.6 L703.8,115.4 L703.9,103.0Z" fill="#2a7c74"/><path d="M724.6,106.0 L724.6,117.9 L724.6,129.7 L724.5,141.4 L724.5,153.0 L724.4,164.5 L724.4,175.8 L724.3,187.0 L724.2,198.1 L724.1,209.0 L723.9,219.8 L723.8,230.6 L723.6,241.1 L723.5,251.6 L723.3,262.0 L728.1,262.0 L728.3,251.7 L728.4,241.2 L728.6,230.6 L728.7,219.9 L728.9,209.1 L729.0,198.1 L729.1,187.0 L729.2,175.8 L729.2,164.5 L729.3,153.0 L729.3,141.5 L729.4,129.8 L729.4,117.9 L729.4,106.0Z" fill="#2a7c74"/></g>
<g filter="url(#fb)"><g><ellipse cx="660.7" cy="97.0" rx="8" ry="3.4" transform="rotate(38 660.7 97.0)" fill="#f2c0ee"/><path d="M670.7,96.0 Q682.7,95.0 685.7,106.0" stroke="#f0b9ec" stroke-width="4.6" fill="none" stroke-linecap="round"/><ellipse cx="671.7" cy="93.0" rx="3.6" ry="7.5" transform="rotate(12 671.7 93.0)" fill="#f4cbf0"/><ellipse cx="663.7" cy="94.0" rx="3" ry="6.5" transform="rotate(-22 663.7 94.0)" fill="#f2c3ee"/><ellipse cx="667.7" cy="105.0" rx="4.4" ry="6" fill="#e99ae2"/></g><g><ellipse cx="693.6" cy="93.0" rx="8" ry="3.4" transform="rotate(38 693.6 93.0)" fill="#f2c0ee"/><path d="M703.6,92.0 Q715.6,91.0 718.6,102.0" stroke="#f0b9ec" stroke-width="4.6" fill="none" stroke-linecap="round"/><ellipse cx="704.6" cy="89.0" rx="3.6" ry="7.5" transform="rotate(12 704.6 89.0)" fill="#f4cbf0"/><ellipse cx="696.6" cy="90.0" rx="3" ry="6.5" transform="rotate(-22 696.6 90.0)" fill="#f2c3ee"/><ellipse cx="700.6" cy="101.0" rx="4.4" ry="6" fill="#e99ae2"/></g><g><ellipse cx="718.8" cy="95.5" rx="8" ry="3.4" transform="rotate(38 718.8 95.5)" fill="#f2c0ee"/><path d="M728.8,94.5 Q740.8,93.5 743.8,104.5" stroke="#f0b9ec" stroke-width="4.6" fill="none" stroke-linecap="round"/><ellipse cx="729.8" cy="91.5" rx="3.6" ry="7.5" transform="rotate(12 729.8 91.5)" fill="#f4cbf0"/><ellipse cx="721.8" cy="92.5" rx="3" ry="6.5" transform="rotate(-22 721.8 92.5)" fill="#f2c3ee"/><ellipse cx="725.8" cy="103.5" rx="4.4" ry="6" fill="#e99ae2"/></g><ellipse cx="657.3" cy="132.0" rx="3.3" ry="4.4" transform="rotate(-30 657.3 132.0)" fill="#ecabe6"/><ellipse cx="689.8" cy="127.0" rx="3.3" ry="4.4" transform="rotate(-30 689.8 127.0)" fill="#ecabe6"/><ellipse cx="713.4" cy="128.5" rx="3.3" ry="4.4" transform="rotate(-30 713.4 128.5)" fill="#ecabe6"/></g>
<path d="M66.7,164.6 L67.1,166.4 L67.7,168.0 L68.5,169.4 L69.7,170.6 L71.1,171.4 L72.8,172.0 L74.5,172.6 L76.3,173.1 L77.8,173.9 L79.0,174.9 L80.0,176.2 L80.6,177.8 L81.1,179.6 L81.5,181.4 L82.0,183.1 L82.7,184.6 L83.7,185.8 L85.1,186.7 L86.7,187.4 L88.5,187.9 L90.2,188.5 L91.8,189.2 L93.2,190.1 L94.2,191.3" fill="none" stroke="#5a8ec8" stroke-width="1.4" stroke-linecap="round" stroke-linejoin="round"/><path d="M69.3,176.3 L70.0,177.6 L70.8,178.8 L71.7,179.9 L72.7,180.6 L73.9,181.2 L75.3,181.4 L76.7,181.5 L78.2,181.5 L79.7,181.5 L81.1,181.6 L82.5,181.9 L83.7,182.4 L84.7,183.2 L85.6,184.2 L86.4,185.5 L87.1,186.8 L87.8,188.1 L88.6,189.3 L89.5,190.3 L90.5,191.1 L91.7,191.6 L93.1,191.9 L94.5,192.0 L96.0,192.0" fill="none" stroke="#d8ecf8" stroke-width="1.6" stroke-linecap="round" stroke-linejoin="round"/><path d="M85.0,162.6 L85.3,164.8 L85.8,166.8 L86.7,168.5 L88.0,169.8 L89.8,170.8 L91.8,171.7 L93.8,172.6 L95.6,173.6 L97.0,174.9 L97.9,176.6 L98.4,178.6 L98.7,180.8 L98.9,183.0 L99.4,185.0 L100.3,186.7 L101.7,188.0 L103.5,189.0 L105.5,189.9 L107.5,190.8 L109.3,191.8 L110.6,193.1 L111.5,194.8 L112.0,196.8 L112.3,199.0" fill="none" stroke="#d8ecf8" stroke-width="1.6" stroke-linecap="round" stroke-linejoin="round"/><path d="M86.2,172.4 L86.6,173.7 L87.1,174.9 L87.7,175.9 L88.4,176.7 L89.4,177.2 L90.5,177.6 L91.8,177.7 L93.1,177.8 L94.5,177.9 L95.7,178.0 L96.9,178.4 L97.8,178.9 L98.6,179.7 L99.2,180.7 L99.7,181.9 L100.1,183.2 L100.5,184.5 L100.9,185.7 L101.5,186.7 L102.3,187.5 L103.3,188.0 L104.4,188.4 L105.7,188.5 L107.0,188.6" fill="none" stroke="#5a8ec8" stroke-width="1.3" stroke-linecap="round" stroke-linejoin="round"/><path d="M95.0,162.0 L95.4,164.1 L96.0,166.0 L97.0,167.6 L98.4,168.8 L100.2,169.6 L102.2,170.2 L104.3,170.9 L106.1,171.7 L107.5,172.9 L108.5,174.5 L109.1,176.4 L109.5,178.5 L109.9,180.6 L110.5,182.5 L111.5,184.1 L112.9,185.3 L114.7,186.1 L116.8,186.8 L118.8,187.4 L120.6,188.2 L122.0,189.4 L123.0,191.0 L123.6,192.9 L124.0,195.0" fill="none" stroke="#d8ecf8" stroke-width="1.6" stroke-linecap="round" stroke-linejoin="round"/><path d="M103.2,163.9 L103.9,166.2 L104.7,168.3 L106.0,170.1 L107.7,171.5 L109.7,172.5 L112.0,173.3 L114.2,174.2 L116.3,175.2 L118.0,176.6 L119.2,178.4 L120.1,180.5 L120.8,182.8 L121.4,185.1 L122.3,187.2 L123.5,189.0 L125.2,190.4 L127.3,191.4 L129.5,192.2 L131.8,193.1 L133.8,194.1 L135.5,195.5 L136.8,197.3 L137.6,199.4 L138.3,201.7" fill="none" stroke="#d8ecf8" stroke-width="1.6" stroke-linecap="round" stroke-linejoin="round"/><path d="M98.0,175.0 L98.8,176.6 L99.8,178.1 L100.9,179.3 L102.3,180.1 L103.9,180.6 L105.7,180.8 L107.5,180.9 L109.3,181.0 L111.0,181.4 L112.4,182.1 L113.6,183.1 L114.6,184.5 L115.5,186.1 L116.3,187.8 L117.2,189.3 L118.3,190.6 L119.6,191.5 L121.1,192.1 L122.8,192.4 L124.7,192.5 L126.5,192.6 L128.2,192.9 L129.8,193.5 L131.0,194.4" fill="none" stroke="#d8ecf8" stroke-width="1.5" stroke-linecap="round" stroke-linejoin="round"/><path d="M125.3,161.3 L126.2,162.7 L127.2,164.0 L128.3,165.0 L129.6,165.9 L130.9,166.4 L132.5,166.8 L134.1,166.9 L135.7,166.9 L137.4,167.0 L139.0,167.1 L140.5,167.4 L141.9,168.0 L143.1,168.8 L144.2,169.9 L145.2,171.2 L146.2,172.6 L147.1,173.9 L148.1,175.2 L149.2,176.3 L150.4,177.1 L151.8,177.7 L153.3,178.0 L154.9,178.2 L156.6,178.2" fill="none" stroke="#d8ecf8" stroke-width="1.6" stroke-linecap="round" stroke-linejoin="round"/><path d="M120.0,170.0 L120.4,172.0 L121.0,173.7 L121.9,175.2 L123.3,176.2 L125.0,176.8 L127.0,177.2 L129.0,177.7 L130.7,178.3 L132.1,179.3 L133.0,180.8 L133.6,182.5 L134.0,184.5 L134.4,186.5 L135.0,188.2 L135.9,189.7 L137.3,190.7 L139.0,191.3 L141.0,191.8 L143.0,192.2 L144.7,192.8 L146.1,193.8 L147.0,195.3 L147.6,197.0 L148.0,199.0" fill="none" stroke="#d8ecf8" stroke-width="1.6" stroke-linecap="round" stroke-linejoin="round"/><path d="M112.0,165.0 L112.6,166.7 L113.3,168.3 L114.2,169.6 L115.4,170.6 L116.9,171.3 L118.6,171.7 L120.4,172.1 L122.1,172.5 L123.7,173.0 L125.0,173.9 L126.0,175.1 L126.8,176.6 L127.4,178.3 L127.9,180.0 L128.6,181.7 L129.4,183.1 L130.5,184.2 L131.9,185.0 L133.6,185.5 L135.3,185.8 L137.1,186.2 L138.7,186.7 L140.1,187.5 L141.3,188.6" fill="none" stroke="#d8ecf8" stroke-width="1.5" stroke-linecap="round" stroke-linejoin="round"/><circle cx="90.8" cy="203.0" r="6.0" fill="#cbb9b4"/><path d="M105.8,201.6 L118.8,197.8 L119.5,208.2 L115.0,212.0 L106.5,210.7Z" fill="#4f8bd0" stroke="#3a6eae" stroke-width="1"/><path d="M128.8,203.0 L132.9,200.4 L137.0,201.7 L134.7,209.5 L130.6,213.4 L125.3,210.2Z" fill="#c9dff0"/><path d="M146.0,192.5 L158.3,188.6 L159.0,199.1 L154.7,203.0 L146.7,201.7Z" fill="#4f8bd0" stroke="#3a6eae" stroke-width="1"/><path d="M149.6,177.9 L153.8,175.6 L158.0,176.8 L155.6,183.8 L151.4,187.3 L146.0,184.4Z" fill="#c9dff0"/><path d="M370.4,172.4 L370.5,173.3 L370.6,174.2 L370.7,175.0 L370.9,175.8 L371.3,176.4 L371.7,177.0 L372.2,177.4 L372.9,177.8 L373.6,178.1 L374.4,178.3 L375.3,178.4 L376.2,178.6 L377.1,178.7 L378.0,178.8 L378.8,179.0 L379.5,179.3 L380.2,179.7 L380.7,180.1 L381.1,180.7 L381.5,181.3 L381.7,182.1 L381.8,182.9 L381.9,183.8 L382.0,184.7" fill="none" stroke="#d8ecf8" stroke-width="1.8" stroke-linecap="round" stroke-linejoin="round"/><path d="M362.6,188.6 L363.1,189.9 L363.7,191.2 L364.3,192.3 L365.1,193.2 L366.1,193.9 L367.2,194.4 L368.5,194.6 L369.8,194.6 L371.3,194.6 L372.7,194.6 L374.1,194.6 L375.4,194.7 L376.6,195.1 L377.6,195.6 L378.5,196.4 L379.2,197.5 L379.8,198.7 L380.4,200.0 L380.9,201.3 L381.4,202.6 L382.0,203.8 L382.8,204.8 L383.6,205.6 L384.7,206.2" fill="none" stroke="#d8ecf8" stroke-width="1.8" stroke-linecap="round" stroke-linejoin="round"/><path d="M362.6,196.4 L363.4,198.1 L364.2,199.6 L365.2,200.9 L366.4,201.9 L367.8,202.7 L369.4,203.1 L371.2,203.3 L373.0,203.3 L374.8,203.4 L376.6,203.6 L378.2,204.0 L379.6,204.7 L380.8,205.7 L381.8,207.1 L382.6,208.6 L383.4,210.3 L384.2,211.9 L385.0,213.5 L386.0,214.8 L387.2,215.8 L388.6,216.5 L390.2,216.9 L392.0,217.1 L393.8,217.2" fill="none" stroke="#d8ecf8" stroke-width="1.8" stroke-linecap="round" stroke-linejoin="round"/><path d="M368.0,192.0 L368.6,193.3 L369.2,194.6 L369.9,195.8 L370.7,196.7 L371.7,197.5 L372.8,198.1 L374.1,198.5 L375.5,198.7 L376.9,198.9 L378.3,199.0 L379.7,199.3 L381.1,199.6 L382.3,200.1 L383.3,200.7 L384.2,201.6 L385.0,202.7 L385.6,203.9 L386.2,205.2 L386.8,206.6 L387.3,207.9 L388.0,209.1 L388.8,210.1 L389.7,211.0 L390.7,211.7" fill="none" stroke="#d8ecf8" stroke-width="1.8" stroke-linecap="round" stroke-linejoin="round"/><path d="M392.5,195.0 L392.7,195.8 L392.9,196.5 L393.2,197.2 L393.5,197.8 L393.8,198.3 L394.3,198.7 L394.8,198.9 L395.4,199.1 L396.1,199.2 L396.8,199.2 L397.6,199.1 L398.4,199.0 L399.1,198.9 L399.9,198.8 L400.6,198.8 L401.3,198.9 L401.9,199.1 L402.4,199.3 L402.9,199.7 L403.2,200.2 L403.5,200.8 L403.8,201.5 L404.0,202.2 L404.2,203.0" fill="none" stroke="#d8ecf8" stroke-width="1.8" stroke-linecap="round" stroke-linejoin="round"/><path d="M384.7,199.0 L385.2,200.1 L385.8,201.1 L386.4,202.0 L387.2,202.8 L388.0,203.4 L388.9,203.9 L389.9,204.2 L391.0,204.3 L392.2,204.4 L393.4,204.4 L394.6,204.4 L395.7,204.5 L396.8,204.7 L397.8,205.0 L398.8,205.4 L399.6,206.1 L400.3,206.8 L400.9,207.8 L401.5,208.8 L402.0,209.8 L402.6,210.9 L403.1,211.9 L403.8,212.8 L404.5,213.6" fill="none" stroke="#5a8ec8" stroke-width="1.4" stroke-linecap="round" stroke-linejoin="round"/><path d="M386.7,184.5 L398.4,181.5 L399.0,189.5 L394.9,192.5 L387.3,191.5Z" fill="#5a94d8" stroke="#3a74b8" stroke-width="1"/><path d="M609.8,175.6 L610.0,176.7 L610.2,177.8 L610.6,178.8 L611.0,179.7 L611.6,180.4 L612.4,181.0 L613.3,181.3 L614.3,181.6 L615.4,181.7 L616.5,181.8 L617.7,182.0 L618.8,182.1 L619.8,182.4 L620.7,182.7 L621.5,183.3 L622.1,184.0 L622.5,184.9 L622.9,185.9 L623.1,187.0 L623.3,188.1 L623.5,189.2 L623.7,190.3 L624.1,191.3 L624.5,192.2" fill="none" stroke="#5a8ec8" stroke-width="1.5" stroke-linecap="round" stroke-linejoin="round"/><path d="M626.0,186.7 L626.3,188.1 L626.7,189.3 L627.3,190.5 L627.9,191.4 L628.8,192.1 L629.8,192.7 L631.0,193.0 L632.3,193.1 L633.7,193.2 L635.1,193.2 L636.4,193.3 L637.7,193.6 L638.8,194.0 L639.7,194.6 L640.5,195.5 L641.0,196.5 L641.5,197.7 L641.8,199.1 L642.2,200.4 L642.5,201.8 L643.0,203.0 L643.6,204.0 L644.4,204.8 L645.3,205.4" fill="none" stroke="#d8ecf8" stroke-width="1.8" stroke-linecap="round" stroke-linejoin="round"/><path d="M635.0,179.5 L635.1,180.8 L635.3,182.0 L635.6,183.1 L636.1,184.0 L636.8,184.7 L637.7,185.2 L638.8,185.5 L640.0,185.7 L641.2,185.8 L642.5,185.8 L643.8,185.9 L644.9,186.2 L645.9,186.6 L646.6,187.2 L647.2,188.0 L647.6,189.0 L647.9,190.2 L648.0,191.4 L648.1,192.7 L648.3,194.0 L648.6,195.1 L649.0,196.1 L649.6,196.9 L650.4,197.5" fill="none" stroke="#d8ecf8" stroke-width="1.8" stroke-linecap="round" stroke-linejoin="round"/><path d="M630.3,171.1 L633.1,169.0 L635.8,170.1 L634.2,176.3 L631.5,179.5 L628.0,176.9Z" fill="#cfe2f0"/><path d="M870.9,176.4 L871.3,177.7 L871.7,179.0 L872.2,180.1 L872.8,181.1 L873.6,181.9 L874.5,182.6 L875.6,183.0 L876.8,183.3 L878.1,183.5 L879.5,183.7 L880.8,183.8 L882.1,184.0 L883.4,184.3 L884.5,184.7 L885.4,185.4 L886.2,186.2 L886.8,187.2 L887.3,188.3 L887.7,189.6 L888.1,190.9 L888.4,192.2 L888.8,193.5 L889.3,194.6 L890.0,195.6" fill="none" stroke="#d8ecf8" stroke-width="1.8" stroke-linecap="round" stroke-linejoin="round"/><path d="M881.7,177.0 L882.1,178.3 L882.5,179.5 L883.0,180.6 L883.7,181.6 L884.4,182.3 L885.4,182.9 L886.5,183.3 L887.7,183.6 L888.9,183.7 L890.3,183.8 L891.6,183.8 L892.9,183.9 L894.1,184.2 L895.2,184.6 L896.1,185.2 L896.9,185.9 L897.5,186.9 L898.1,188.0 L898.5,189.2 L898.9,190.5 L899.2,191.8 L899.7,193.0 L900.2,194.1 L900.8,195.1" fill="none" stroke="#d8ecf8" stroke-width="1.8" stroke-linecap="round" stroke-linejoin="round"/><path d="M891.5,175.3 L892.0,176.6 L892.6,177.8 L893.2,178.9 L894.0,179.9 L894.8,180.6 L895.9,181.2 L897.0,181.5 L898.3,181.7 L899.6,181.8 L901.0,181.8 L902.4,181.9 L903.7,181.9 L905.0,182.1 L906.1,182.5 L907.2,183.1 L908.0,183.8 L908.8,184.8 L909.4,185.9 L910.0,187.1 L910.5,188.4 L911.0,189.7 L911.6,190.9 L912.2,192.0 L913.0,193.0" fill="none" stroke="#5a8ec8" stroke-width="1.5" stroke-linecap="round" stroke-linejoin="round"/><path d="M875.9,191.3 L879.4,188.9 L882.8,190.1 L880.8,197.2 L877.4,200.8 L873.0,197.8Z" fill="#c8def0"/><path d="M880.0,199.6 L894.0,196.0 L894.7,205.9 L889.8,209.5 L880.7,208.3Z" fill="#4f8bd0" stroke="#3a6eae" stroke-width="1"/><circle cx="905.6" cy="199.7" r="6.3" fill="#c8bab4"/><path d="M314.6,254.8 C319.0,265.5 334.1,262.0 338.5,272.7" fill="none" stroke="#e6f0c8" stroke-width="2.0" stroke-linecap="round"/><path d="M380.2,271.5 C390.1,269.4 389.4,255.7 399.3,253.6" fill="none" stroke="#e6f0c8" stroke-width="2.0" stroke-linecap="round"/><path d="M414.8,252.4 C419.0,262.5 433.3,258.9 437.5,269.0" fill="none" stroke="#e6f0c8" stroke-width="2.0" stroke-linecap="round"/><path d="M435.0,250.0 C439.4,260.8 454.6,257.2 459.0,268.0" fill="none" stroke="#e6f0c8" stroke-width="2.0" stroke-linecap="round"/><path d="M374.3,290.4 L378.4,288.0 L382.6,289.2 L380.2,296.4 L376.1,300.0 L370.7,297.0Z" fill="#d4e6c0"/><path d="M314.6,301.9 L329.2,297.7 L330.0,309.0 L324.9,313.2 L315.4,311.8Z" fill="#4f8bd0" stroke="#3a6eae" stroke-width="1"/><path d="M394.6,309.7 C410.1,308.2 411.3,287.3 426.8,285.8" fill="none" stroke="#5f98a4" stroke-width="2.0" stroke-linecap="round"/><path d="M361.0,313.2 C365.6,323.6 380.4,319.6 385.0,330.0" fill="none" stroke="#e6f0c8" stroke-width="2.0" stroke-linecap="round"/><path d="M329.0,344.3 C339.0,341.1 336.8,327.2 346.8,324.0" fill="none" stroke="#e6f0c8" stroke-width="2.0" stroke-linecap="round"/><circle cx="360.0" cy="340.7" r="6.5" fill="#aaa2ac"/><path d="M422.0,328.8 C432.2,326.2 430.8,312.3 441.0,309.7" fill="none" stroke="#e6f0c8" stroke-width="2.0" stroke-linecap="round"/><path d="M425.6,350.0 C436.2,347.7 435.3,333.3 445.9,331.0" fill="none" stroke="#e6f0c8" stroke-width="2.0" stroke-linecap="round"/><path d="M380.2,355.0 C390.2,352.8 389.3,339.2 399.3,337.0" fill="none" stroke="#e6f0c8" stroke-width="2.0" stroke-linecap="round"/><path d="M336.0,350.0 C338.8,357.1 348.8,354.9 351.6,362.0" fill="none" stroke="#5f98a4" stroke-width="2.0" stroke-linecap="round"/><path d="M404.0,347.9 C405.8,355.4 416.2,354.5 418.0,362.0" fill="none" stroke="#5f98a4" stroke-width="2.0" stroke-linecap="round"/><path d="M459.0,333.5 C469.8,331.3 469.2,316.6 480.0,314.4" fill="none" stroke="#5f98a4" stroke-width="2.0" stroke-linecap="round"/><path d="M465.0,279.5 L469.1,277.4 L473.3,278.5 L470.9,284.8 L466.8,288.0 L461.4,285.4Z" fill="#d4e6c0"/><path d="M477.2,279.8 C491.6,276.5 490.2,256.9 504.6,253.6" fill="none" stroke="#e6f0c8" stroke-width="2.0" stroke-linecap="round"/><path d="M530.9,276.3 C541.5,274.0 540.5,259.5 551.1,257.2" fill="none" stroke="#e6f0c8" stroke-width="2.0" stroke-linecap="round"/><path d="M633.5,254.8 C643.0,266.5 660.5,256.3 670.0,268.0" fill="none" stroke="#d8ecf8" stroke-width="2.0" stroke-linecap="round"/><path d="M609.6,264.3 L622.0,260.7 L622.7,270.3 L618.4,273.9 L610.3,272.7Z" fill="#4f8bd0" stroke="#3a6eae" stroke-width="1"/><path d="M600.1,285.8 L604.2,283.4 L608.4,284.6 L606.0,291.7 L601.9,295.3 L596.5,292.3Z" fill="#d4e6c0"/><circle cx="565.5" cy="296.5" r="6.3" fill="#c2b8c4"/><path d="M504.6,300.4 L519.2,296.5 L520.0,307.0 L514.9,310.9 L505.4,309.6Z" fill="#4f8bd0" stroke="#3a6eae" stroke-width="1"/><circle cx="511.8" cy="321.6" r="6.3" fill="#a8a0aa"/><path d="M470.0,328.8 C480.1,327.3 480.2,313.5 490.3,312.0" fill="none" stroke="#5f98a4" stroke-width="2.0" stroke-linecap="round"/><path d="M498.6,332.3 C502.8,342.4 517.1,338.9 521.3,349.0" fill="none" stroke="#5f98a4" stroke-width="2.0" stroke-linecap="round"/><path d="M473.6,355.0 C483.4,352.2 481.7,338.8 491.5,336.0" fill="none" stroke="#e6f0c8" stroke-width="2.0" stroke-linecap="round"/><path d="M529.7,343.0 C539.2,340.6 538.1,327.6 547.6,325.2" fill="none" stroke="#e6f0c8" stroke-width="2.0" stroke-linecap="round"/><path d="M554.7,309.7 C558.9,319.8 573.2,316.3 577.4,326.4" fill="none" stroke="#e6f0c8" stroke-width="2.0" stroke-linecap="round"/><path d="M586.9,297.7 C591.1,307.8 605.4,304.3 609.6,314.4" fill="none" stroke="#e6f0c8" stroke-width="2.0" stroke-linecap="round"/><path d="M588.0,343.0 C597.6,340.7 596.4,327.5 606.0,325.2" fill="none" stroke="#e6f0c8" stroke-width="2.0" stroke-linecap="round"/><path d="M634.7,312.0 C649.3,311.1 651.1,291.5 665.7,290.6" fill="none" stroke="#5f98a4" stroke-width="2.0" stroke-linecap="round"/><path d="M637.0,333.5 C646.8,330.7 645.2,317.2 655.0,314.4" fill="none" stroke="#e6f0c8" stroke-width="2.0" stroke-linecap="round"/><path d="M684.5,254.9 C688.8,265.3 703.5,261.6 707.8,272.0" fill="none" stroke="#e6f0c8" stroke-width="2.0" stroke-linecap="round"/><path d="M705.3,251.2 C715.9,263.2 734.0,251.5 744.6,263.5" fill="none" stroke="#d8ecf8" stroke-width="2.0" stroke-linecap="round"/><path d="M765.4,252.5 C770.0,262.5 784.1,258.4 788.7,268.4" fill="none" stroke="#e6f0c8" stroke-width="2.0" stroke-linecap="round"/><path d="M656.0,262.0 C661.9,268.1 671.1,261.5 677.0,267.6" fill="none" stroke="#e6f0c8" stroke-width="2.0" stroke-linecap="round"/><path d="M687.0,272.1 L691.2,269.6 L695.5,270.8 L693.1,278.2 L688.8,281.9 L683.3,278.8Z" fill="#d4e6c0"/><path d="M722.5,290.4 C726.7,300.2 740.4,296.6 744.6,306.4" fill="none" stroke="#e6f0c8" stroke-width="2.0" stroke-linecap="round"/><path d="M698.0,311.3 C701.9,321.4 716.1,318.3 720.0,328.4" fill="none" stroke="#e6f0c8" stroke-width="2.0" stroke-linecap="round"/><path d="M739.7,333.3 C749.5,330.9 748.2,317.4 758.0,315.0" fill="none" stroke="#e6f0c8" stroke-width="2.0" stroke-linecap="round"/><path d="M785.0,296.0 L800.2,291.7 L801.0,303.3 L795.7,307.6 L785.8,306.2Z" fill="#4f8bd0" stroke="#3a6eae" stroke-width="1"/><path d="M815,264 Q820,279 834,281" fill="none" stroke="#5a96a8" stroke-width="2" stroke-linecap="round"/><path d="M841,279 Q856,276 858,263" fill="none" stroke="#5a96a8" stroke-width="2" stroke-linecap="round"/><path d="M851.2,290.4 C855.3,300.1 869.1,296.7 873.2,306.4" fill="none" stroke="#e6f0c8" stroke-width="2.0" stroke-linecap="round"/><path d="M807.0,327.2 C822.3,325.8 823.7,305.3 839.0,303.9" fill="none" stroke="#5f98a4" stroke-width="2.0" stroke-linecap="round"/><g clip-path="url(#cW)"><path d="M314.6,254.8 C319.0,265.5 334.1,262.0 338.5,272.7" fill="none" stroke="#c4e2f4" stroke-width="2.0" stroke-linecap="round"/><path d="M380.2,271.5 C390.1,269.4 389.4,255.7 399.3,253.6" fill="none" stroke="#c4e2f4" stroke-width="2.0" stroke-linecap="round"/><path d="M414.8,252.4 C419.0,262.5 433.3,258.9 437.5,269.0" fill="none" stroke="#c4e2f4" stroke-width="2.0" stroke-linecap="round"/><path d="M435.0,250.0 C439.4,260.8 454.6,257.2 459.0,268.0" fill="none" stroke="#c4e2f4" stroke-width="2.0" stroke-linecap="round"/><path d="M361.0,313.2 C365.6,323.6 380.4,319.6 385.0,330.0" fill="none" stroke="#c4e2f4" stroke-width="2.0" stroke-linecap="round"/><path d="M329.0,344.3 C339.0,341.1 336.8,327.2 346.8,324.0" fill="none" stroke="#c4e2f4" stroke-width="2.0" stroke-linecap="round"/><path d="M422.0,328.8 C432.2,326.2 430.8,312.3 441.0,309.7" fill="none" stroke="#c4e2f4" stroke-width="2.0" stroke-linecap="round"/><path d="M425.6,350.0 C436.2,347.7 435.3,333.3 445.9,331.0" fill="none" stroke="#c4e2f4" stroke-width="2.0" stroke-linecap="round"/><path d="M380.2,355.0 C390.2,352.8 389.3,339.2 399.3,337.0" fill="none" stroke="#c4e2f4" stroke-width="2.0" stroke-linecap="round"/><path d="M477.2,279.8 C491.6,276.5 490.2,256.9 504.6,253.6" fill="none" stroke="#c4e2f4" stroke-width="2.0" stroke-linecap="round"/><path d="M530.9,276.3 C541.5,274.0 540.5,259.5 551.1,257.2" fill="none" stroke="#c4e2f4" stroke-width="2.0" stroke-linecap="round"/><path d="M473.6,355.0 C483.4,352.2 481.7,338.8 491.5,336.0" fill="none" stroke="#c4e2f4" stroke-width="2.0" stroke-linecap="round"/><path d="M529.7,343.0 C539.2,340.6 538.1,327.6 547.6,325.2" fill="none" stroke="#c4e2f4" stroke-width="2.0" stroke-linecap="round"/><path d="M554.7,309.7 C558.9,319.8 573.2,316.3 577.4,326.4" fill="none" stroke="#c4e2f4" stroke-width="2.0" stroke-linecap="round"/><path d="M586.9,297.7 C591.1,307.8 605.4,304.3 609.6,314.4" fill="none" stroke="#c4e2f4" stroke-width="2.0" stroke-linecap="round"/><path d="M588.0,343.0 C597.6,340.7 596.4,327.5 606.0,325.2" fill="none" stroke="#c4e2f4" stroke-width="2.0" stroke-linecap="round"/><path d="M637.0,333.5 C646.8,330.7 645.2,317.2 655.0,314.4" fill="none" stroke="#c4e2f4" stroke-width="2.0" stroke-linecap="round"/><path d="M684.5,254.9 C688.8,265.3 703.5,261.6 707.8,272.0" fill="none" stroke="#c4e2f4" stroke-width="2.0" stroke-linecap="round"/><path d="M765.4,252.5 C770.0,262.5 784.1,258.4 788.7,268.4" fill="none" stroke="#c4e2f4" stroke-width="2.0" stroke-linecap="round"/><path d="M656.0,262.0 C661.9,268.1 671.1,261.5 677.0,267.6" fill="none" stroke="#c4e2f4" stroke-width="2.0" stroke-linecap="round"/><path d="M722.5,290.4 C726.7,300.2 740.4,296.6 744.6,306.4" fill="none" stroke="#c4e2f4" stroke-width="2.0" stroke-linecap="round"/><path d="M698.0,311.3 C701.9,321.4 716.1,318.3 720.0,328.4" fill="none" stroke="#c4e2f4" stroke-width="2.0" stroke-linecap="round"/><path d="M739.7,333.3 C749.5,330.9 748.2,317.4 758.0,315.0" fill="none" stroke="#c4e2f4" stroke-width="2.0" stroke-linecap="round"/><path d="M851.2,290.4 C855.3,300.1 869.1,296.7 873.2,306.4" fill="none" stroke="#c4e2f4" stroke-width="2.0" stroke-linecap="round"/></g>
<!-- /PLANTS -->
<!-- white arrows -->
<g fill="#ffffff">
<path d="M186.9,173.8 L304.2,173.8 L304.2,158 L335.2,189.8 L304.2,222 L304.2,207 L186.9,207 L202.1,190.1 Z"/>
<path d="M200.1,219.3 L257.8,257.8 L265.6,244.6 L274.9,289.3 L230.6,297.5 L237.8,284.6 L182.2,246.7 L203.8,240.9 Z"/>
<path d="M288.1,253.4 L316.3,235.7 L314.7,230.3 L329.3,232.5 L326.6,247.1 L324.5,244.4 L293.6,262.3 L294.6,255.2 Z"/>
<path d="M535,179.1 L600.2,178.6 L600.2,170 L616.2,186.3 L600.2,203 L600.2,194.6 L533.9,194.6 L541,186.7 Z"/>
<path d="M530.3,216.1 L558.9,236.4 L561.3,228 L568.5,249.5 L547,253 L554.2,248.3 L521.9,229.7 L532.7,227.3 Z"/>
<path d="M574.9,249.5 L604.3,231.6 L601.9,226.8 L616.9,227.3 L615,242 L611.4,242.3 L581.1,257.9 L581.6,250.2 Z"/>
<path d="M785.2,184.1 L845.9,183.4 L847,180.4 L853.5,186.9 L847,192.8 L845.9,190.6 L785.2,190.6 L787.4,187.4 Z"/>
<path d="M783.4,229 L813.4,248.1 L814.5,244.8 L818.8,258.9 L805.8,260 L808,256.8 L777.6,237.7 L785.2,235.1 Z"/>
<path d="M828.1,256.8 L849.2,236.2 L848.1,232.9 L857.2,231.8 L856.8,241.6 L853.5,240.5 L831.8,262.2 L831.8,257.9 Z"/>
</g>

<!-- texts -->
<g class="serif" fill="#e07d3c" stroke="#e07d3c" stroke-width="0.7" font-size="30.5">
<circle cx="88" cy="14" r="3.3"/><circle cx="88" cy="50" r="3.3"/><circle cx="88" cy="87" r="3.3"/>
<text x="118" y="23.5" transform="matrix(1,0,0,0.95,0,1.175)">Summer</text>
<text x="118" y="59.5" transform="matrix(1,0,0,0.95,0,2.975)">Winter</text>
<text x="118" y="96.5" transform="matrix(1,0,0,0.95,0,4.825)">Rain &amp; dry</text>
<text x="118" y="134.5" transform="matrix(1,0,0,0.95,0,6.725)">season</text>
<circle cx="879" cy="50" r="3.3"/>
<text x="908" y="59.8" transform="matrix(1,0,0,0.95,0,2.990)">Rain</text>
</g>
<g class="serif" fill="#6598cf" stroke="#6598cf" stroke-width="0.6" font-size="30.5">
<circle cx="329" cy="9.5" r="3.3"/><circle cx="329" cy="46" r="3.3"/>
<text x="358" y="20.8" transform="matrix(1,0,0,0.95,0,1.040)">Rain &amp; dry season</text>
<text x="359" y="56.7" transform="matrix(1,0,0,0.95,0,2.835)">Vacation</text>
</g>
<g class="serif" fill="#111" stroke="#111" stroke-width="0.4">
<text x="14" y="140.5" font-size="35" font-style="italic" stroke-width="0.9">C</text>
<text x="37" y="148.5" font-size="22.5" textLength="77" lengthAdjust="spacingAndGlyphs">MPs, in</text>
<text x="858" y="140.5" font-size="35" font-style="italic" stroke-width="0.9">C</text>
<text x="882" y="149" font-size="22.5" textLength="91" lengthAdjust="spacingAndGlyphs">MPs, out</text>
</g>
<g class="sans">
<text x="302.5" y="430.5" font-size="31.5" fill="#2f5597" textLength="380" lengthAdjust="spacingAndGlyphs">Long term operation SFW</text>
<text x="802" y="379" font-size="30" fill="#548235" textLength="144" lengthAdjust="spacingAndGlyphs">Sediment</text>
</g>
</g>
</svg>
</body></html>
